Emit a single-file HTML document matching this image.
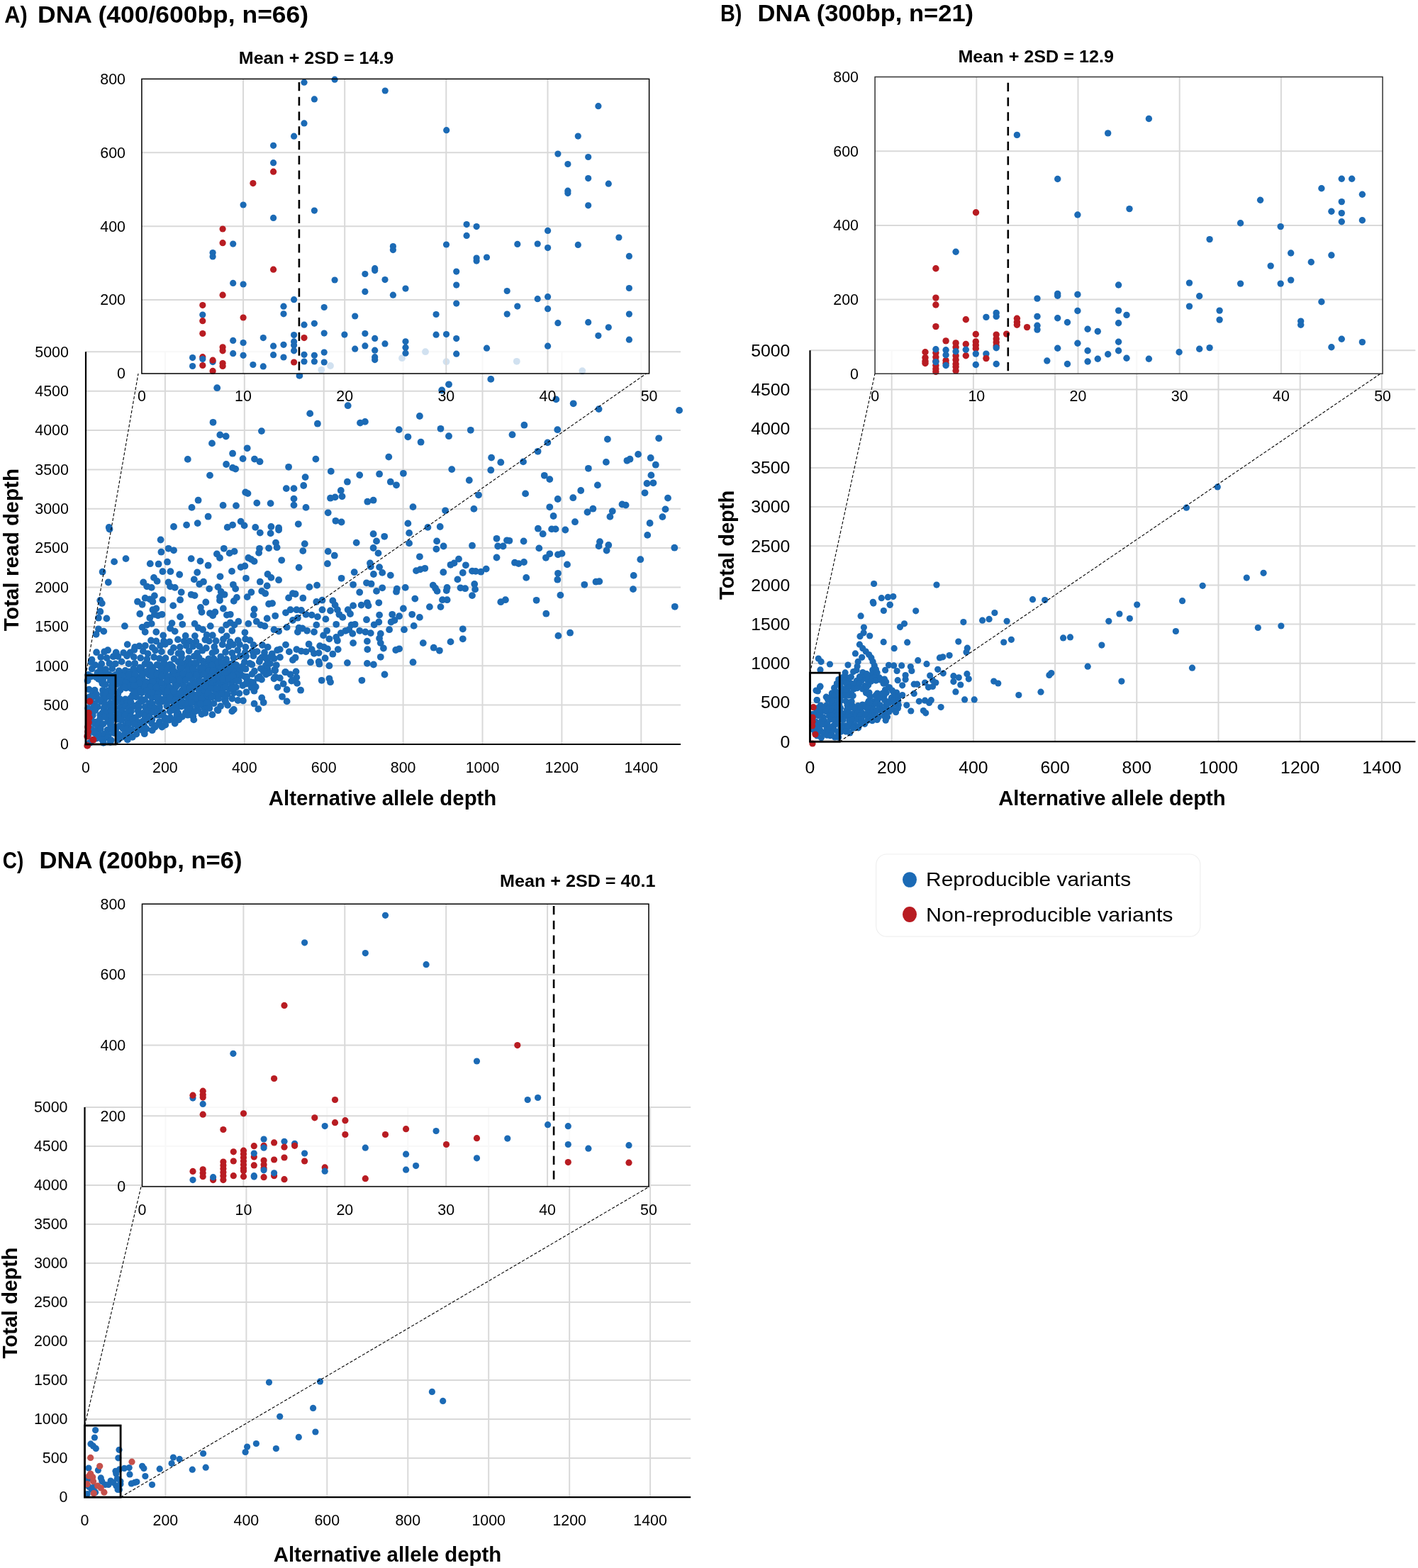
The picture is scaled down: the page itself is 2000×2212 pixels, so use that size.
<!DOCTYPE html><html><head><meta charset="utf-8"><title>DNA variant depth plots</title><style>html,body{margin:0;padding:0;background:#fff;}svg{display:block;}</style></head><body><svg width="2000" height="2212" viewBox="0 0 2000 2212" font-family="'Liberation Sans', Arial, sans-serif">
<rect width="2000" height="2212" fill="#fff"/>
<path d="M121.0 994.6H960.0M121.0 939.3H960.0M121.0 883.9H960.0M121.0 828.5H960.0M121.0 773.1H960.0M121.0 717.8H960.0M121.0 662.4H960.0M121.0 607.0H960.0M121.0 551.7H960.0M121.0 496.3H960.0M232.9 496.3V1050.0M344.8 496.3V1050.0M456.7 496.3V1050.0M568.6 496.3V1050.0M680.5 496.3V1050.0M792.4 496.3V1050.0M904.3 496.3V1050.0" stroke="#d9d9d9" stroke-width="2" fill="none"/>
<g fill="#1b6ab5"><circle cx="294.4" cy="929.7" r="4.9"/><circle cx="256.0" cy="935.1" r="4.9"/><circle cx="264.2" cy="933.8" r="4.9"/><circle cx="269.9" cy="935.9" r="4.9"/><circle cx="277.1" cy="935.4" r="4.9"/><circle cx="285.7" cy="932.6" r="4.9"/><circle cx="293.9" cy="933.5" r="4.9"/><circle cx="299.3" cy="935.6" r="4.9"/><circle cx="308.2" cy="933.0" r="4.9"/><circle cx="316.6" cy="935.3" r="4.9"/><circle cx="320.2" cy="935.7" r="4.9"/><circle cx="329.5" cy="936.5" r="4.9"/><circle cx="199.5" cy="942.6" r="4.9"/><circle cx="210.7" cy="939.4" r="4.9"/><circle cx="215.8" cy="941.7" r="4.9"/><circle cx="224.5" cy="938.8" r="4.9"/><circle cx="228.8" cy="938.7" r="4.9"/><circle cx="237.6" cy="938.8" r="4.9"/><circle cx="243.3" cy="940.4" r="4.9"/><circle cx="253.7" cy="941.6" r="4.9"/><circle cx="259.8" cy="939.1" r="4.9"/><circle cx="266.1" cy="941.0" r="4.9"/><circle cx="273.7" cy="939.0" r="4.9"/><circle cx="282.6" cy="942.1" r="4.9"/><circle cx="290.2" cy="942.7" r="4.9"/><circle cx="295.6" cy="940.5" r="4.9"/><circle cx="302.4" cy="942.6" r="4.9"/><circle cx="308.9" cy="940.7" r="4.9"/><circle cx="317.7" cy="939.3" r="4.9"/><circle cx="326.0" cy="941.8" r="4.9"/><circle cx="331.0" cy="940.0" r="4.9"/><circle cx="137.5" cy="949.0" r="4.9"/><circle cx="146.0" cy="947.3" r="4.9"/><circle cx="177.2" cy="947.3" r="4.9"/><circle cx="181.8" cy="947.7" r="4.9"/><circle cx="190.9" cy="945.9" r="4.9"/><circle cx="198.1" cy="946.4" r="4.9"/><circle cx="204.3" cy="949.3" r="4.9"/><circle cx="212.6" cy="948.1" r="4.9"/><circle cx="220.0" cy="948.9" r="4.9"/><circle cx="227.6" cy="946.8" r="4.9"/><circle cx="232.8" cy="948.5" r="4.9"/><circle cx="243.4" cy="949.1" r="4.9"/><circle cx="248.9" cy="949.2" r="4.9"/><circle cx="254.0" cy="948.1" r="4.9"/><circle cx="264.1" cy="948.5" r="4.9"/><circle cx="270.0" cy="946.1" r="4.9"/><circle cx="277.4" cy="947.1" r="4.9"/><circle cx="284.8" cy="946.4" r="4.9"/><circle cx="292.8" cy="949.2" r="4.9"/><circle cx="298.0" cy="945.7" r="4.9"/><circle cx="307.7" cy="948.5" r="4.9"/><circle cx="312.5" cy="946.3" r="4.9"/><circle cx="321.1" cy="947.1" r="4.9"/><circle cx="327.0" cy="945.3" r="4.9"/><circle cx="337.9" cy="946.4" r="4.9"/><circle cx="128.7" cy="954.4" r="4.9"/><circle cx="137.1" cy="951.6" r="4.9"/><circle cx="142.2" cy="953.3" r="4.9"/><circle cx="150.6" cy="953.4" r="4.9"/><circle cx="157.7" cy="953.4" r="4.9"/><circle cx="164.9" cy="952.4" r="4.9"/><circle cx="171.8" cy="951.4" r="4.9"/><circle cx="181.3" cy="953.9" r="4.9"/><circle cx="187.0" cy="951.6" r="4.9"/><circle cx="194.1" cy="955.6" r="4.9"/><circle cx="200.9" cy="955.2" r="4.9"/><circle cx="210.4" cy="952.5" r="4.9"/><circle cx="216.1" cy="953.4" r="4.9"/><circle cx="222.0" cy="952.7" r="4.9"/><circle cx="230.6" cy="953.9" r="4.9"/><circle cx="238.4" cy="954.5" r="4.9"/><circle cx="245.6" cy="952.3" r="4.9"/><circle cx="254.1" cy="951.8" r="4.9"/><circle cx="258.1" cy="953.0" r="4.9"/><circle cx="266.4" cy="952.1" r="4.9"/><circle cx="272.5" cy="953.9" r="4.9"/><circle cx="281.8" cy="953.3" r="4.9"/><circle cx="291.0" cy="953.5" r="4.9"/><circle cx="296.8" cy="951.8" r="4.9"/><circle cx="305.1" cy="951.8" r="4.9"/><circle cx="312.1" cy="954.0" r="4.9"/><circle cx="317.9" cy="952.1" r="4.9"/><circle cx="324.2" cy="953.2" r="4.9"/><circle cx="333.1" cy="952.6" r="4.9"/><circle cx="340.7" cy="952.7" r="4.9"/><circle cx="123.6" cy="960.2" r="4.9"/><circle cx="138.9" cy="957.9" r="4.9"/><circle cx="145.1" cy="959.0" r="4.9"/><circle cx="155.6" cy="960.0" r="4.9"/><circle cx="162.5" cy="959.5" r="4.9"/><circle cx="170.0" cy="959.1" r="4.9"/><circle cx="177.7" cy="959.4" r="4.9"/><circle cx="185.1" cy="958.7" r="4.9"/><circle cx="191.5" cy="960.0" r="4.9"/><circle cx="197.1" cy="959.0" r="4.9"/><circle cx="206.0" cy="961.8" r="4.9"/><circle cx="214.1" cy="960.1" r="4.9"/><circle cx="220.1" cy="961.3" r="4.9"/><circle cx="224.8" cy="960.7" r="4.9"/><circle cx="235.8" cy="959.8" r="4.9"/><circle cx="239.6" cy="959.8" r="4.9"/><circle cx="246.9" cy="960.6" r="4.9"/><circle cx="255.1" cy="958.9" r="4.9"/><circle cx="261.6" cy="959.6" r="4.9"/><circle cx="270.9" cy="958.6" r="4.9"/><circle cx="279.5" cy="960.2" r="4.9"/><circle cx="287.2" cy="961.6" r="4.9"/><circle cx="294.4" cy="960.7" r="4.9"/><circle cx="301.7" cy="957.6" r="4.9"/><circle cx="306.9" cy="961.1" r="4.9"/><circle cx="315.2" cy="960.8" r="4.9"/><circle cx="323.1" cy="958.8" r="4.9"/><circle cx="329.0" cy="959.8" r="4.9"/><circle cx="335.5" cy="957.7" r="4.9"/><circle cx="144.4" cy="964.3" r="4.9"/><circle cx="148.6" cy="965.6" r="4.9"/><circle cx="157.3" cy="967.9" r="4.9"/><circle cx="164.9" cy="965.3" r="4.9"/><circle cx="173.1" cy="968.0" r="4.9"/><circle cx="178.0" cy="967.7" r="4.9"/><circle cx="184.5" cy="965.0" r="4.9"/><circle cx="195.4" cy="965.4" r="4.9"/><circle cx="200.8" cy="964.9" r="4.9"/><circle cx="207.7" cy="965.0" r="4.9"/><circle cx="214.7" cy="968.2" r="4.9"/><circle cx="222.6" cy="966.4" r="4.9"/><circle cx="231.7" cy="966.7" r="4.9"/><circle cx="237.0" cy="967.5" r="4.9"/><circle cx="247.1" cy="965.0" r="4.9"/><circle cx="251.3" cy="965.2" r="4.9"/><circle cx="257.9" cy="966.0" r="4.9"/><circle cx="267.3" cy="967.0" r="4.9"/><circle cx="272.2" cy="966.4" r="4.9"/><circle cx="280.2" cy="964.4" r="4.9"/><circle cx="287.7" cy="966.7" r="4.9"/><circle cx="294.7" cy="966.1" r="4.9"/><circle cx="302.2" cy="964.1" r="4.9"/><circle cx="311.4" cy="967.0" r="4.9"/><circle cx="317.4" cy="966.0" r="4.9"/><circle cx="326.8" cy="965.6" r="4.9"/><circle cx="125.6" cy="972.6" r="4.9"/><circle cx="133.6" cy="973.7" r="4.9"/><circle cx="145.1" cy="973.8" r="4.9"/><circle cx="152.3" cy="974.4" r="4.9"/><circle cx="160.0" cy="971.2" r="4.9"/><circle cx="169.5" cy="973.6" r="4.9"/><circle cx="177.8" cy="970.5" r="4.9"/><circle cx="185.1" cy="971.3" r="4.9"/><circle cx="190.6" cy="970.3" r="4.9"/><circle cx="198.9" cy="973.3" r="4.9"/><circle cx="203.2" cy="970.6" r="4.9"/><circle cx="213.6" cy="974.0" r="4.9"/><circle cx="217.9" cy="972.7" r="4.9"/><circle cx="225.9" cy="973.7" r="4.9"/><circle cx="233.8" cy="972.1" r="4.9"/><circle cx="242.0" cy="971.9" r="4.9"/><circle cx="246.9" cy="970.8" r="4.9"/><circle cx="256.7" cy="974.1" r="4.9"/><circle cx="263.9" cy="970.9" r="4.9"/><circle cx="271.4" cy="971.5" r="4.9"/><circle cx="279.8" cy="971.8" r="4.9"/><circle cx="285.1" cy="970.7" r="4.9"/><circle cx="291.8" cy="971.6" r="4.9"/><circle cx="301.9" cy="971.8" r="4.9"/><circle cx="305.7" cy="974.2" r="4.9"/><circle cx="314.3" cy="972.1" r="4.9"/><circle cx="323.6" cy="971.8" r="4.9"/><circle cx="130.2" cy="980.1" r="4.9"/><circle cx="135.9" cy="979.4" r="4.9"/><circle cx="145.1" cy="979.8" r="4.9"/><circle cx="149.5" cy="979.5" r="4.9"/><circle cx="157.8" cy="977.2" r="4.9"/><circle cx="166.4" cy="978.4" r="4.9"/><circle cx="187.1" cy="980.5" r="4.9"/><circle cx="192.9" cy="978.1" r="4.9"/><circle cx="199.9" cy="977.4" r="4.9"/><circle cx="208.7" cy="980.7" r="4.9"/><circle cx="216.5" cy="978.3" r="4.9"/><circle cx="224.3" cy="977.0" r="4.9"/><circle cx="232.2" cy="977.6" r="4.9"/><circle cx="237.2" cy="978.0" r="4.9"/><circle cx="246.2" cy="979.3" r="4.9"/><circle cx="250.8" cy="978.9" r="4.9"/><circle cx="261.1" cy="979.2" r="4.9"/><circle cx="268.2" cy="977.8" r="4.9"/><circle cx="276.0" cy="980.6" r="4.9"/><circle cx="283.3" cy="980.0" r="4.9"/><circle cx="288.2" cy="977.3" r="4.9"/><circle cx="295.6" cy="979.0" r="4.9"/><circle cx="305.5" cy="977.3" r="4.9"/><circle cx="309.6" cy="978.8" r="4.9"/><circle cx="318.3" cy="979.3" r="4.9"/><circle cx="125.9" cy="983.4" r="4.9"/><circle cx="130.9" cy="983.3" r="4.9"/><circle cx="138.8" cy="986.7" r="4.9"/><circle cx="147.6" cy="985.7" r="4.9"/><circle cx="154.9" cy="983.2" r="4.9"/><circle cx="162.0" cy="985.3" r="4.9"/><circle cx="168.6" cy="985.8" r="4.9"/><circle cx="176.8" cy="986.5" r="4.9"/><circle cx="184.5" cy="984.8" r="4.9"/><circle cx="192.2" cy="983.2" r="4.9"/><circle cx="199.0" cy="986.5" r="4.9"/><circle cx="204.1" cy="987.1" r="4.9"/><circle cx="214.0" cy="983.7" r="4.9"/><circle cx="220.1" cy="983.8" r="4.9"/><circle cx="226.5" cy="986.3" r="4.9"/><circle cx="233.2" cy="985.0" r="4.9"/><circle cx="239.8" cy="983.2" r="4.9"/><circle cx="247.3" cy="987.0" r="4.9"/><circle cx="254.1" cy="986.9" r="4.9"/><circle cx="264.4" cy="983.0" r="4.9"/><circle cx="271.6" cy="986.2" r="4.9"/><circle cx="279.4" cy="983.9" r="4.9"/><circle cx="286.3" cy="982.9" r="4.9"/><circle cx="291.5" cy="985.5" r="4.9"/><circle cx="298.8" cy="983.1" r="4.9"/><circle cx="306.3" cy="984.2" r="4.9"/><circle cx="127.0" cy="990.2" r="4.9"/><circle cx="133.5" cy="992.3" r="4.9"/><circle cx="142.7" cy="989.7" r="4.9"/><circle cx="148.3" cy="993.5" r="4.9"/><circle cx="155.6" cy="991.9" r="4.9"/><circle cx="163.4" cy="991.0" r="4.9"/><circle cx="172.4" cy="992.7" r="4.9"/><circle cx="179.2" cy="992.2" r="4.9"/><circle cx="184.6" cy="990.7" r="4.9"/><circle cx="195.0" cy="993.0" r="4.9"/><circle cx="199.9" cy="989.4" r="4.9"/><circle cx="210.6" cy="992.1" r="4.9"/><circle cx="214.7" cy="992.6" r="4.9"/><circle cx="222.6" cy="989.6" r="4.9"/><circle cx="228.7" cy="989.6" r="4.9"/><circle cx="235.8" cy="990.8" r="4.9"/><circle cx="244.9" cy="989.7" r="4.9"/><circle cx="252.9" cy="990.6" r="4.9"/><circle cx="259.1" cy="991.1" r="4.9"/><circle cx="265.0" cy="990.2" r="4.9"/><circle cx="273.4" cy="990.3" r="4.9"/><circle cx="282.0" cy="991.8" r="4.9"/><circle cx="288.2" cy="989.9" r="4.9"/><circle cx="294.2" cy="991.2" r="4.9"/><circle cx="124.3" cy="999.1" r="4.9"/><circle cx="132.3" cy="997.3" r="4.9"/><circle cx="137.6" cy="997.3" r="4.9"/><circle cx="146.3" cy="998.9" r="4.9"/><circle cx="155.6" cy="997.4" r="4.9"/><circle cx="161.7" cy="998.7" r="4.9"/><circle cx="169.7" cy="998.0" r="4.9"/><circle cx="177.1" cy="996.7" r="4.9"/><circle cx="181.9" cy="999.2" r="4.9"/><circle cx="189.4" cy="996.0" r="4.9"/><circle cx="195.8" cy="997.6" r="4.9"/><circle cx="204.7" cy="997.2" r="4.9"/><circle cx="211.3" cy="999.3" r="4.9"/><circle cx="218.4" cy="998.6" r="4.9"/><circle cx="225.0" cy="997.6" r="4.9"/><circle cx="235.4" cy="996.1" r="4.9"/><circle cx="241.7" cy="999.6" r="4.9"/><circle cx="250.0" cy="998.2" r="4.9"/><circle cx="256.0" cy="996.6" r="4.9"/><circle cx="262.8" cy="996.7" r="4.9"/><circle cx="268.6" cy="998.3" r="4.9"/><circle cx="277.9" cy="996.5" r="4.9"/><circle cx="286.4" cy="995.9" r="4.9"/><circle cx="293.9" cy="998.4" r="4.9"/><circle cx="127.7" cy="1005.5" r="4.9"/><circle cx="134.2" cy="1002.2" r="4.9"/><circle cx="144.6" cy="1005.8" r="4.9"/><circle cx="151.6" cy="1004.2" r="4.9"/><circle cx="156.7" cy="1003.5" r="4.9"/><circle cx="165.3" cy="1006.2" r="4.9"/><circle cx="172.2" cy="1003.4" r="4.9"/><circle cx="179.2" cy="1005.8" r="4.9"/><circle cx="185.0" cy="1003.3" r="4.9"/><circle cx="194.7" cy="1002.7" r="4.9"/><circle cx="202.1" cy="1005.8" r="4.9"/><circle cx="208.3" cy="1003.3" r="4.9"/><circle cx="214.3" cy="1004.6" r="4.9"/><circle cx="221.9" cy="1003.9" r="4.9"/><circle cx="230.0" cy="1005.1" r="4.9"/><circle cx="239.7" cy="1003.5" r="4.9"/><circle cx="247.0" cy="1002.4" r="4.9"/><circle cx="251.2" cy="1005.9" r="4.9"/><circle cx="261.8" cy="1005.7" r="4.9"/><circle cx="266.2" cy="1004.2" r="4.9"/><circle cx="273.1" cy="1004.6" r="4.9"/><circle cx="279.6" cy="1002.2" r="4.9"/><circle cx="125.8" cy="1011.4" r="4.9"/><circle cx="130.8" cy="1009.1" r="4.9"/><circle cx="141.3" cy="1008.8" r="4.9"/><circle cx="147.1" cy="1011.2" r="4.9"/><circle cx="155.2" cy="1011.2" r="4.9"/><circle cx="161.1" cy="1011.3" r="4.9"/><circle cx="168.5" cy="1009.7" r="4.9"/><circle cx="176.1" cy="1009.0" r="4.9"/><circle cx="184.6" cy="1010.5" r="4.9"/><circle cx="191.1" cy="1012.3" r="4.9"/><circle cx="195.5" cy="1008.7" r="4.9"/><circle cx="204.6" cy="1010.7" r="4.9"/><circle cx="210.8" cy="1011.6" r="4.9"/><circle cx="221.3" cy="1008.7" r="4.9"/><circle cx="224.9" cy="1008.8" r="4.9"/><circle cx="232.2" cy="1012.3" r="4.9"/><circle cx="240.1" cy="1012.3" r="4.9"/><circle cx="249.4" cy="1009.5" r="4.9"/><circle cx="256.9" cy="1011.1" r="4.9"/><circle cx="264.7" cy="1008.7" r="4.9"/><circle cx="272.3" cy="1010.8" r="4.9"/><circle cx="129.0" cy="1016.2" r="4.9"/><circle cx="134.4" cy="1018.6" r="4.9"/><circle cx="140.9" cy="1014.6" r="4.9"/><circle cx="152.2" cy="1017.6" r="4.9"/><circle cx="156.6" cy="1017.8" r="4.9"/><circle cx="165.4" cy="1014.7" r="4.9"/><circle cx="171.5" cy="1015.9" r="4.9"/><circle cx="180.5" cy="1016.0" r="4.9"/><circle cx="187.0" cy="1015.1" r="4.9"/><circle cx="194.9" cy="1018.9" r="4.9"/><circle cx="201.1" cy="1017.6" r="4.9"/><circle cx="208.6" cy="1016.1" r="4.9"/><circle cx="214.3" cy="1015.3" r="4.9"/><circle cx="224.9" cy="1018.3" r="4.9"/><circle cx="232.5" cy="1014.7" r="4.9"/><circle cx="238.4" cy="1015.7" r="4.9"/><circle cx="245.1" cy="1015.9" r="4.9"/><circle cx="252.1" cy="1015.4" r="4.9"/><circle cx="124.7" cy="1024.4" r="4.9"/><circle cx="133.7" cy="1021.1" r="4.9"/><circle cx="139.3" cy="1022.8" r="4.9"/><circle cx="145.5" cy="1021.3" r="4.9"/><circle cx="155.3" cy="1021.6" r="4.9"/><circle cx="159.7" cy="1025.1" r="4.9"/><circle cx="168.4" cy="1024.1" r="4.9"/><circle cx="176.7" cy="1022.8" r="4.9"/><circle cx="181.2" cy="1021.5" r="4.9"/><circle cx="189.3" cy="1021.3" r="4.9"/><circle cx="199.0" cy="1022.6" r="4.9"/><circle cx="203.3" cy="1023.9" r="4.9"/><circle cx="214.2" cy="1020.9" r="4.9"/><circle cx="219.7" cy="1023.6" r="4.9"/><circle cx="225.2" cy="1021.5" r="4.9"/><circle cx="233.3" cy="1022.6" r="4.9"/><circle cx="129.1" cy="1028.9" r="4.9"/><circle cx="137.5" cy="1028.7" r="4.9"/><circle cx="141.8" cy="1028.2" r="4.9"/><circle cx="151.5" cy="1029.7" r="4.9"/><circle cx="156.5" cy="1028.9" r="4.9"/><circle cx="163.4" cy="1028.4" r="4.9"/><circle cx="173.5" cy="1027.8" r="4.9"/><circle cx="178.4" cy="1028.0" r="4.9"/><circle cx="185.3" cy="1029.3" r="4.9"/><circle cx="194.2" cy="1027.7" r="4.9"/><circle cx="199.5" cy="1029.9" r="4.9"/><circle cx="206.6" cy="1028.2" r="4.9"/><circle cx="214.7" cy="1030.2" r="4.9"/><circle cx="124.7" cy="1036.2" r="4.9"/><circle cx="133.8" cy="1034.2" r="4.9"/><circle cx="141.4" cy="1036.9" r="4.9"/><circle cx="147.4" cy="1035.5" r="4.9"/><circle cx="152.9" cy="1037.1" r="4.9"/><circle cx="160.8" cy="1034.0" r="4.9"/><circle cx="167.2" cy="1035.9" r="4.9"/><circle cx="175.9" cy="1035.3" r="4.9"/><circle cx="182.8" cy="1035.8" r="4.9"/><circle cx="192.3" cy="1035.6" r="4.9"/><circle cx="203.8" cy="1035.2" r="4.9"/><circle cx="130.5" cy="1044.1" r="4.9"/><circle cx="136.2" cy="1041.5" r="4.9"/><circle cx="143.9" cy="1043.3" r="4.9"/><circle cx="152.0" cy="1040.8" r="4.9"/><circle cx="156.7" cy="1044.1" r="4.9"/><circle cx="166.7" cy="1043.7" r="4.9"/><circle cx="172.2" cy="1039.8" r="4.9"/><circle cx="179.9" cy="1043.5" r="4.9"/><circle cx="186.8" cy="1039.8" r="4.9"/><circle cx="126.8" cy="1047.8" r="4.9"/><circle cx="145.9" cy="1047.9" r="4.9"/><circle cx="155.7" cy="1046.9" r="4.9"/><circle cx="261.7" cy="896.9" r="4.9"/><circle cx="274.9" cy="897.1" r="4.9"/><circle cx="291.6" cy="895.7" r="4.9"/><circle cx="299.8" cy="896.2" r="4.9"/><circle cx="319.7" cy="897.3" r="4.9"/><circle cx="213.0" cy="903.5" r="4.9"/><circle cx="220.3" cy="904.5" r="4.9"/><circle cx="231.0" cy="904.4" r="4.9"/><circle cx="239.1" cy="905.3" r="4.9"/><circle cx="250.9" cy="902.2" r="4.9"/><circle cx="259.8" cy="904.7" r="4.9"/><circle cx="267.5" cy="904.7" r="4.9"/><circle cx="276.4" cy="905.1" r="4.9"/><circle cx="289.4" cy="902.5" r="4.9"/><circle cx="294.9" cy="904.4" r="4.9"/><circle cx="304.7" cy="904.2" r="4.9"/><circle cx="315.0" cy="901.7" r="4.9"/><circle cx="324.6" cy="905.4" r="4.9"/><circle cx="335.7" cy="903.4" r="4.9"/><circle cx="346.1" cy="901.5" r="4.9"/><circle cx="352.5" cy="903.2" r="4.9"/><circle cx="179.7" cy="909.1" r="4.9"/><circle cx="190.2" cy="913.0" r="4.9"/><circle cx="196.4" cy="911.4" r="4.9"/><circle cx="204.9" cy="910.8" r="4.9"/><circle cx="214.9" cy="913.4" r="4.9"/><circle cx="226.1" cy="910.9" r="4.9"/><circle cx="233.0" cy="908.8" r="4.9"/><circle cx="244.9" cy="913.9" r="4.9"/><circle cx="253.9" cy="912.9" r="4.9"/><circle cx="262.8" cy="910.8" r="4.9"/><circle cx="272.2" cy="911.8" r="4.9"/><circle cx="281.3" cy="911.9" r="4.9"/><circle cx="290.8" cy="914.2" r="4.9"/><circle cx="302.3" cy="912.5" r="4.9"/><circle cx="313.7" cy="909.2" r="4.9"/><circle cx="322.4" cy="912.0" r="4.9"/><circle cx="328.8" cy="909.5" r="4.9"/><circle cx="338.0" cy="909.2" r="4.9"/><circle cx="346.4" cy="912.9" r="4.9"/><circle cx="357.5" cy="909.9" r="4.9"/><circle cx="370.0" cy="910.0" r="4.9"/><circle cx="377.7" cy="912.9" r="4.9"/><circle cx="136.1" cy="920.2" r="4.9"/><circle cx="147.1" cy="919.5" r="4.9"/><circle cx="152.1" cy="917.2" r="4.9"/><circle cx="163.7" cy="920.4" r="4.9"/><circle cx="174.2" cy="920.9" r="4.9"/><circle cx="183.6" cy="920.5" r="4.9"/><circle cx="189.4" cy="916.8" r="4.9"/><circle cx="201.9" cy="918.6" r="4.9"/><circle cx="208.6" cy="922.1" r="4.9"/><circle cx="219.0" cy="917.5" r="4.9"/><circle cx="227.9" cy="919.4" r="4.9"/><circle cx="240.9" cy="920.0" r="4.9"/><circle cx="251.5" cy="921.8" r="4.9"/><circle cx="256.0" cy="921.9" r="4.9"/><circle cx="266.6" cy="918.2" r="4.9"/><circle cx="278.1" cy="921.5" r="4.9"/><circle cx="285.4" cy="917.7" r="4.9"/><circle cx="299.5" cy="921.2" r="4.9"/><circle cx="304.4" cy="918.6" r="4.9"/><circle cx="318.1" cy="920.0" r="4.9"/><circle cx="327.3" cy="921.2" r="4.9"/><circle cx="335.3" cy="917.3" r="4.9"/><circle cx="345.8" cy="920.4" r="4.9"/><circle cx="356.1" cy="918.7" r="4.9"/><circle cx="362.7" cy="919.1" r="4.9"/><circle cx="373.0" cy="920.5" r="4.9"/><circle cx="383.8" cy="922.3" r="4.9"/><circle cx="391.1" cy="917.2" r="4.9"/><circle cx="129.5" cy="930.7" r="4.9"/><circle cx="142.2" cy="927.1" r="4.9"/><circle cx="150.7" cy="928.2" r="4.9"/><circle cx="159.8" cy="926.2" r="4.9"/><circle cx="166.5" cy="926.1" r="4.9"/><circle cx="179.1" cy="925.4" r="4.9"/><circle cx="188.8" cy="926.9" r="4.9"/><circle cx="198.2" cy="928.2" r="4.9"/><circle cx="207.4" cy="929.7" r="4.9"/><circle cx="217.2" cy="927.0" r="4.9"/><circle cx="224.9" cy="929.0" r="4.9"/><circle cx="233.5" cy="928.4" r="4.9"/><circle cx="245.6" cy="929.5" r="4.9"/><circle cx="256.1" cy="927.3" r="4.9"/><circle cx="266.0" cy="928.6" r="4.9"/><circle cx="273.8" cy="925.8" r="4.9"/><circle cx="280.7" cy="927.9" r="4.9"/><circle cx="294.4" cy="929.7" r="4.9"/><circle cx="301.6" cy="929.5" r="4.9"/><circle cx="311.3" cy="926.3" r="4.9"/><circle cx="319.1" cy="930.0" r="4.9"/><circle cx="329.5" cy="927.8" r="4.9"/><circle cx="338.7" cy="925.5" r="4.9"/><circle cx="347.1" cy="925.9" r="4.9"/><circle cx="357.4" cy="925.2" r="4.9"/><circle cx="369.6" cy="927.3" r="4.9"/><circle cx="376.5" cy="930.2" r="4.9"/><circle cx="386.7" cy="929.0" r="4.9"/><circle cx="394.9" cy="927.2" r="4.9"/><circle cx="128.5" cy="934.1" r="4.9"/><circle cx="134.3" cy="938.1" r="4.9"/><circle cx="143.2" cy="936.4" r="4.9"/><circle cx="154.3" cy="935.8" r="4.9"/><circle cx="162.8" cy="936.3" r="4.9"/><circle cx="171.6" cy="933.4" r="4.9"/><circle cx="181.4" cy="936.4" r="4.9"/><circle cx="190.2" cy="935.8" r="4.9"/><circle cx="204.4" cy="936.6" r="4.9"/><circle cx="211.4" cy="937.6" r="4.9"/><circle cx="221.6" cy="937.8" r="4.9"/><circle cx="231.3" cy="934.9" r="4.9"/><circle cx="240.0" cy="937.3" r="4.9"/><circle cx="251.3" cy="933.5" r="4.9"/><circle cx="256.1" cy="935.0" r="4.9"/><circle cx="270.7" cy="937.1" r="4.9"/><circle cx="275.2" cy="935.1" r="4.9"/><circle cx="287.1" cy="938.2" r="4.9"/><circle cx="299.6" cy="938.3" r="4.9"/><circle cx="307.5" cy="935.1" r="4.9"/><circle cx="313.0" cy="935.0" r="4.9"/><circle cx="326.6" cy="936.6" r="4.9"/><circle cx="333.3" cy="938.2" r="4.9"/><circle cx="344.9" cy="933.9" r="4.9"/><circle cx="352.3" cy="936.0" r="4.9"/><circle cx="365.8" cy="933.4" r="4.9"/><circle cx="374.9" cy="938.7" r="4.9"/><circle cx="381.0" cy="936.1" r="4.9"/><circle cx="389.8" cy="938.3" r="4.9"/><circle cx="129.6" cy="943.6" r="4.9"/><circle cx="141.9" cy="942.9" r="4.9"/><circle cx="149.1" cy="944.4" r="4.9"/><circle cx="158.2" cy="943.2" r="4.9"/><circle cx="167.7" cy="946.5" r="4.9"/><circle cx="176.7" cy="946.0" r="4.9"/><circle cx="188.4" cy="943.3" r="4.9"/><circle cx="197.4" cy="941.7" r="4.9"/><circle cx="207.5" cy="946.8" r="4.9"/><circle cx="213.8" cy="947.0" r="4.9"/><circle cx="227.3" cy="942.8" r="4.9"/><circle cx="235.8" cy="944.1" r="4.9"/><circle cx="244.4" cy="945.7" r="4.9"/><circle cx="256.1" cy="942.9" r="4.9"/><circle cx="264.9" cy="945.0" r="4.9"/><circle cx="272.3" cy="942.9" r="4.9"/><circle cx="285.2" cy="942.8" r="4.9"/><circle cx="294.7" cy="946.5" r="4.9"/><circle cx="300.5" cy="945.9" r="4.9"/><circle cx="311.8" cy="942.3" r="4.9"/><circle cx="322.1" cy="944.5" r="4.9"/><circle cx="332.6" cy="947.1" r="4.9"/><circle cx="338.6" cy="945.2" r="4.9"/><circle cx="346.5" cy="943.7" r="4.9"/><circle cx="358.9" cy="946.7" r="4.9"/><circle cx="367.9" cy="943.1" r="4.9"/><circle cx="377.3" cy="943.5" r="4.9"/><circle cx="387.3" cy="944.8" r="4.9"/><circle cx="124.3" cy="951.8" r="4.9"/><circle cx="135.5" cy="955.2" r="4.9"/><circle cx="142.0" cy="951.9" r="4.9"/><circle cx="153.4" cy="951.4" r="4.9"/><circle cx="163.1" cy="951.9" r="4.9"/><circle cx="172.2" cy="953.6" r="4.9"/><circle cx="181.1" cy="952.0" r="4.9"/><circle cx="190.3" cy="951.3" r="4.9"/><circle cx="200.2" cy="950.8" r="4.9"/><circle cx="213.8" cy="953.9" r="4.9"/><circle cx="221.3" cy="951.2" r="4.9"/><circle cx="227.9" cy="954.5" r="4.9"/><circle cx="237.9" cy="954.3" r="4.9"/><circle cx="251.9" cy="953.6" r="4.9"/><circle cx="258.3" cy="950.2" r="4.9"/><circle cx="266.5" cy="953.0" r="4.9"/><circle cx="277.2" cy="952.5" r="4.9"/><circle cx="287.4" cy="951.7" r="4.9"/><circle cx="296.1" cy="954.6" r="4.9"/><circle cx="306.0" cy="953.4" r="4.9"/><circle cx="317.1" cy="949.8" r="4.9"/><circle cx="326.6" cy="954.7" r="4.9"/><circle cx="333.4" cy="952.0" r="4.9"/><circle cx="345.3" cy="954.6" r="4.9"/><circle cx="355.6" cy="950.9" r="4.9"/><circle cx="366.1" cy="954.7" r="4.9"/><circle cx="375.3" cy="951.4" r="4.9"/><circle cx="142.6" cy="959.8" r="4.9"/><circle cx="158.6" cy="962.3" r="4.9"/><circle cx="170.2" cy="960.6" r="4.9"/><circle cx="177.6" cy="963.2" r="4.9"/><circle cx="187.3" cy="959.5" r="4.9"/><circle cx="196.8" cy="963.6" r="4.9"/><circle cx="206.6" cy="963.3" r="4.9"/><circle cx="215.4" cy="962.2" r="4.9"/><circle cx="228.0" cy="963.5" r="4.9"/><circle cx="236.7" cy="960.6" r="4.9"/><circle cx="243.5" cy="959.0" r="4.9"/><circle cx="253.0" cy="959.5" r="4.9"/><circle cx="262.1" cy="959.8" r="4.9"/><circle cx="275.7" cy="963.5" r="4.9"/><circle cx="282.8" cy="961.9" r="4.9"/><circle cx="290.0" cy="963.0" r="4.9"/><circle cx="304.2" cy="961.4" r="4.9"/><circle cx="308.9" cy="958.9" r="4.9"/><circle cx="318.1" cy="963.0" r="4.9"/><circle cx="328.9" cy="958.5" r="4.9"/><circle cx="336.8" cy="960.6" r="4.9"/><circle cx="348.6" cy="960.0" r="4.9"/><circle cx="357.0" cy="963.0" r="4.9"/><circle cx="369.0" cy="958.6" r="4.9"/><circle cx="175.8" cy="969.7" r="4.9"/><circle cx="183.9" cy="967.3" r="4.9"/><circle cx="189.5" cy="967.2" r="4.9"/><circle cx="204.2" cy="968.5" r="4.9"/><circle cx="212.0" cy="969.4" r="4.9"/><circle cx="220.4" cy="969.5" r="4.9"/><circle cx="231.5" cy="970.8" r="4.9"/><circle cx="238.8" cy="969.7" r="4.9"/><circle cx="248.9" cy="967.9" r="4.9"/><circle cx="261.2" cy="969.3" r="4.9"/><circle cx="268.2" cy="970.4" r="4.9"/><circle cx="280.1" cy="970.6" r="4.9"/><circle cx="289.6" cy="967.4" r="4.9"/><circle cx="297.6" cy="970.8" r="4.9"/><circle cx="305.6" cy="971.0" r="4.9"/><circle cx="318.2" cy="969.3" r="4.9"/><circle cx="327.8" cy="970.3" r="4.9"/><circle cx="333.0" cy="969.6" r="4.9"/><circle cx="342.2" cy="967.0" r="4.9"/><circle cx="354.6" cy="969.8" r="4.9"/><circle cx="360.7" cy="969.0" r="4.9"/><circle cx="190.2" cy="977.3" r="4.9"/><circle cx="198.5" cy="976.0" r="4.9"/><circle cx="206.9" cy="974.4" r="4.9"/><circle cx="213.5" cy="977.4" r="4.9"/><circle cx="223.0" cy="979.8" r="4.9"/><circle cx="235.9" cy="975.0" r="4.9"/><circle cx="245.0" cy="975.1" r="4.9"/><circle cx="253.4" cy="977.9" r="4.9"/><circle cx="266.1" cy="975.4" r="4.9"/><circle cx="270.4" cy="978.0" r="4.9"/><circle cx="279.8" cy="979.1" r="4.9"/><circle cx="293.4" cy="978.2" r="4.9"/><circle cx="303.0" cy="980.1" r="4.9"/><circle cx="312.9" cy="979.3" r="4.9"/><circle cx="320.9" cy="979.4" r="4.9"/><circle cx="329.9" cy="977.3" r="4.9"/><circle cx="337.4" cy="978.1" r="4.9"/><circle cx="347.5" cy="976.3" r="4.9"/><circle cx="358.5" cy="974.7" r="4.9"/><circle cx="221.2" cy="984.0" r="4.9"/><circle cx="232.5" cy="987.8" r="4.9"/><circle cx="239.5" cy="984.8" r="4.9"/><circle cx="247.7" cy="986.9" r="4.9"/><circle cx="256.1" cy="983.9" r="4.9"/><circle cx="269.6" cy="983.0" r="4.9"/><circle cx="276.3" cy="985.2" r="4.9"/><circle cx="284.4" cy="985.4" r="4.9"/><circle cx="299.1" cy="983.6" r="4.9"/><circle cx="308.2" cy="985.7" r="4.9"/><circle cx="317.0" cy="987.6" r="4.9"/><circle cx="327.4" cy="985.6" r="4.9"/><circle cx="335.6" cy="988.0" r="4.9"/><circle cx="245.1" cy="992.3" r="4.9"/><circle cx="256.4" cy="990.9" r="4.9"/><circle cx="265.0" cy="993.2" r="4.9"/><circle cx="270.3" cy="991.3" r="4.9"/><circle cx="282.8" cy="992.9" r="4.9"/><circle cx="291.9" cy="991.3" r="4.9"/><circle cx="301.5" cy="992.4" r="4.9"/><circle cx="311.1" cy="996.2" r="4.9"/><circle cx="321.1" cy="994.9" r="4.9"/><circle cx="265.6" cy="1000.5" r="4.9"/><circle cx="275.6" cy="1003.3" r="4.9"/><circle cx="288.8" cy="1000.3" r="4.9"/><circle cx="295.5" cy="999.1" r="4.9"/><circle cx="306.5" cy="1001.1" r="4.9"/><circle cx="284.4" cy="1007.6" r="4.9"/><circle cx="299.4" cy="1008.2" r="4.9"/><circle cx="306.2" cy="547.2" r="4.9"/><circle cx="300.5" cy="595.8" r="4.9"/><circle cx="368.9" cy="608.1" r="4.9"/><circle cx="310.3" cy="613.5" r="4.9"/><circle cx="318.7" cy="615.5" r="4.9"/><circle cx="299.0" cy="625.4" r="4.9"/><circle cx="348.7" cy="632.3" r="4.9"/><circle cx="328.1" cy="639.7" r="4.9"/><circle cx="264.8" cy="647.9" r="4.9"/><circle cx="342.6" cy="647.1" r="4.9"/><circle cx="359.0" cy="647.6" r="4.9"/><circle cx="366.5" cy="651.2" r="4.9"/><circle cx="319.1" cy="655.0" r="4.9"/><circle cx="328.1" cy="659.9" r="4.9"/><circle cx="332.2" cy="661.6" r="4.9"/><circle cx="407.1" cy="658.8" r="4.9"/><circle cx="296.0" cy="670.6" r="4.9"/><circle cx="403.8" cy="689.1" r="4.9"/><circle cx="414.5" cy="689.1" r="4.9"/><circle cx="346.2" cy="694.5" r="4.9"/><circle cx="349.5" cy="696.1" r="4.9"/><circle cx="414.5" cy="703.6" r="4.9"/><circle cx="279.6" cy="705.7" r="4.9"/><circle cx="270.5" cy="715.9" r="4.9"/><circle cx="314.6" cy="712.9" r="4.9"/><circle cx="333.0" cy="713.4" r="4.9"/><circle cx="362.3" cy="709.6" r="4.9"/><circle cx="381.6" cy="710.1" r="4.9"/><circle cx="414.5" cy="712.6" r="4.9"/><circle cx="293.6" cy="728.7" r="4.9"/><circle cx="278.7" cy="738.1" r="4.9"/><circle cx="263.1" cy="740.6" r="4.9"/><circle cx="245.0" cy="743.0" r="4.9"/><circle cx="339.6" cy="735.6" r="4.9"/><circle cx="328.1" cy="740.6" r="4.9"/><circle cx="320.7" cy="743.9" r="4.9"/><circle cx="344.6" cy="741.4" r="4.9"/><circle cx="360.2" cy="743.9" r="4.9"/><circle cx="382.4" cy="743.0" r="4.9"/><circle cx="393.1" cy="744.7" r="4.9"/><circle cx="153.7" cy="743.9" r="4.9"/><circle cx="422.4" cy="529.9" r="4.9"/><circle cx="692.3" cy="534.9" r="4.9"/><circle cx="633.0" cy="542.3" r="4.9"/><circle cx="623.2" cy="550.5" r="4.9"/><circle cx="490.7" cy="572.2" r="4.9"/><circle cx="437.2" cy="583.4" r="4.9"/><circle cx="447.9" cy="597.7" r="4.9"/><circle cx="508.0" cy="596.6" r="4.9"/><circle cx="514.9" cy="594.9" r="4.9"/><circle cx="591.9" cy="587.0" r="4.9"/><circle cx="562.8" cy="606.1" r="4.9"/><circle cx="621.5" cy="604.8" r="4.9"/><circle cx="663.8" cy="606.8" r="4.9"/><circle cx="575.4" cy="616.3" r="4.9"/><circle cx="633.0" cy="615.2" r="4.9"/><circle cx="593.6" cy="623.7" r="4.9"/><circle cx="445.4" cy="647.6" r="4.9"/><circle cx="548.3" cy="644.6" r="4.9"/><circle cx="693.1" cy="645.6" r="4.9"/><circle cx="706.3" cy="652.2" r="4.9"/><circle cx="637.2" cy="662.1" r="4.9"/><circle cx="692.3" cy="663.2" r="4.9"/><circle cx="466.8" cy="664.9" r="4.9"/><circle cx="507.2" cy="670.1" r="4.9"/><circle cx="535.1" cy="668.7" r="4.9"/><circle cx="568.9" cy="667.8" r="4.9"/><circle cx="430.6" cy="673.1" r="4.9"/><circle cx="489.9" cy="679.7" r="4.9"/><circle cx="550.8" cy="679.7" r="4.9"/><circle cx="559.0" cy="684.3" r="4.9"/><circle cx="661.8" cy="677.5" r="4.9"/><circle cx="428.2" cy="685.0" r="4.9"/><circle cx="480.8" cy="692.0" r="4.9"/><circle cx="482.5" cy="700.3" r="4.9"/><circle cx="466.0" cy="702.7" r="4.9"/><circle cx="472.6" cy="701.4" r="4.9"/><circle cx="518.3" cy="707.7" r="4.9"/><circle cx="526.6" cy="705.7" r="4.9"/><circle cx="675.0" cy="698.3" r="4.9"/><circle cx="431.5" cy="715.9" r="4.9"/><circle cx="582.5" cy="715.1" r="4.9"/><circle cx="628.1" cy="720.3" r="4.9"/><circle cx="668.4" cy="717.9" r="4.9"/><circle cx="462.7" cy="723.3" r="4.9"/><circle cx="473.4" cy="734.8" r="4.9"/><circle cx="481.6" cy="736.5" r="4.9"/><circle cx="420.8" cy="739.3" r="4.9"/><circle cx="575.4" cy="738.4" r="4.9"/><circle cx="603.4" cy="743.9" r="4.9"/><circle cx="620.7" cy="743.0" r="4.9"/><circle cx="784.3" cy="563.4" r="4.9"/><circle cx="808.7" cy="569.3" r="4.9"/><circle cx="844.6" cy="577.1" r="4.9"/><circle cx="958.1" cy="578.9" r="4.9"/><circle cx="739.4" cy="599.7" r="4.9"/><circle cx="786.3" cy="606.2" r="4.9"/><circle cx="722.5" cy="613.2" r="4.9"/><circle cx="856.9" cy="619.6" r="4.9"/><circle cx="929.2" cy="618.3" r="4.9"/><circle cx="772.3" cy="624.4" r="4.9"/><circle cx="758.6" cy="636.8" r="4.9"/><circle cx="738.0" cy="651.4" r="4.9"/><circle cx="900.1" cy="640.9" r="4.9"/><circle cx="917.7" cy="646.0" r="4.9"/><circle cx="884.4" cy="649.8" r="4.9"/><circle cx="888.5" cy="647.7" r="4.9"/><circle cx="854.9" cy="651.9" r="4.9"/><circle cx="924.8" cy="655.7" r="4.9"/><circle cx="829.9" cy="660.8" r="4.9"/><circle cx="767.8" cy="670.8" r="4.9"/><circle cx="775.3" cy="676.1" r="4.9"/><circle cx="918.4" cy="670.4" r="4.9"/><circle cx="912.5" cy="682.0" r="4.9"/><circle cx="921.4" cy="681.3" r="4.9"/><circle cx="842.9" cy="684.4" r="4.9"/><circle cx="819.2" cy="692.0" r="4.9"/><circle cx="741.1" cy="696.4" r="4.9"/><circle cx="909.5" cy="695.3" r="4.9"/><circle cx="808.3" cy="702.2" r="4.9"/><circle cx="786.7" cy="704.0" r="4.9"/><circle cx="942.0" cy="702.6" r="4.9"/><circle cx="775.3" cy="715.3" r="4.9"/><circle cx="877.5" cy="711.5" r="4.9"/><circle cx="882.6" cy="712.6" r="4.9"/><circle cx="836.4" cy="717.7" r="4.9"/><circle cx="828.5" cy="722.5" r="4.9"/><circle cx="863.8" cy="721.1" r="4.9"/><circle cx="860.4" cy="728.9" r="4.9"/><circle cx="938.5" cy="718.4" r="4.9"/><circle cx="780.6" cy="728.0" r="4.9"/><circle cx="934.4" cy="729.1" r="4.9"/><circle cx="811.0" cy="736.2" r="4.9"/><circle cx="916.6" cy="738.0" r="4.9"/><circle cx="154.5" cy="746.6" r="4.9"/><circle cx="226.6" cy="761.5" r="4.9"/><circle cx="237.6" cy="773.8" r="4.9"/><circle cx="245.0" cy="776.3" r="4.9"/><circle cx="227.4" cy="778.7" r="4.9"/><circle cx="177.5" cy="788.1" r="4.9"/><circle cx="161.1" cy="792.4" r="4.9"/><circle cx="211.8" cy="795.2" r="4.9"/><circle cx="223.6" cy="795.7" r="4.9"/><circle cx="236.0" cy="792.7" r="4.9"/><circle cx="269.7" cy="788.1" r="4.9"/><circle cx="282.5" cy="791.6" r="4.9"/><circle cx="293.6" cy="797.7" r="4.9"/><circle cx="315.8" cy="773.8" r="4.9"/><circle cx="323.7" cy="780.4" r="4.9"/><circle cx="330.6" cy="777.9" r="4.9"/><circle cx="305.9" cy="781.5" r="4.9"/><circle cx="310.0" cy="787.0" r="4.9"/><circle cx="366.0" cy="773.8" r="4.9"/><circle cx="379.1" cy="773.3" r="4.9"/><circle cx="389.0" cy="765.6" r="4.9"/><circle cx="390.6" cy="772.2" r="4.9"/><circle cx="365.1" cy="779.9" r="4.9"/><circle cx="366.8" cy="751.6" r="4.9"/><circle cx="381.6" cy="752.4" r="4.9"/><circle cx="393.1" cy="747.5" r="4.9"/><circle cx="350.3" cy="787.0" r="4.9"/><circle cx="358.6" cy="791.9" r="4.9"/><circle cx="354.4" cy="789.1" r="4.9"/><circle cx="397.2" cy="790.3" r="4.9"/><circle cx="339.6" cy="800.1" r="4.9"/><circle cx="345.4" cy="798.5" r="4.9"/><circle cx="327.0" cy="805.9" r="4.9"/><circle cx="310.5" cy="813.3" r="4.9"/><circle cx="278.2" cy="807.5" r="4.9"/><circle cx="347.0" cy="815.8" r="4.9"/><circle cx="377.5" cy="810.0" r="4.9"/><circle cx="382.4" cy="814.9" r="4.9"/><circle cx="393.1" cy="818.2" r="4.9"/><circle cx="144.6" cy="806.7" r="4.9"/><circle cx="152.8" cy="821.5" r="4.9"/><circle cx="229.4" cy="806.2" r="4.9"/><circle cx="240.4" cy="806.2" r="4.9"/><circle cx="253.2" cy="810.5" r="4.9"/><circle cx="217.0" cy="814.9" r="4.9"/><circle cx="221.6" cy="819.9" r="4.9"/><circle cx="202.2" cy="821.5" r="4.9"/><circle cx="207.2" cy="827.3" r="4.9"/><circle cx="213.7" cy="828.9" r="4.9"/><circle cx="237.6" cy="821.5" r="4.9"/><circle cx="240.1" cy="827.3" r="4.9"/><circle cx="246.7" cy="828.9" r="4.9"/><circle cx="273.8" cy="817.4" r="4.9"/><circle cx="281.2" cy="824.0" r="4.9"/><circle cx="287.0" cy="820.7" r="4.9"/><circle cx="295.2" cy="830.6" r="4.9"/><circle cx="307.5" cy="828.1" r="4.9"/><circle cx="311.7" cy="834.7" r="4.9"/><circle cx="316.6" cy="838.8" r="4.9"/><circle cx="328.9" cy="824.8" r="4.9"/><circle cx="332.2" cy="830.6" r="4.9"/><circle cx="366.8" cy="820.7" r="4.9"/><circle cx="376.7" cy="826.5" r="4.9"/><circle cx="369.2" cy="833.9" r="4.9"/><circle cx="374.2" cy="837.2" r="4.9"/><circle cx="255.7" cy="835.5" r="4.9"/><circle cx="269.7" cy="838.8" r="4.9"/><circle cx="274.6" cy="840.1" r="4.9"/><circle cx="310.0" cy="842.1" r="4.9"/><circle cx="310.0" cy="847.0" r="4.9"/><circle cx="329.8" cy="847.9" r="4.9"/><circle cx="333.9" cy="842.9" r="4.9"/><circle cx="348.7" cy="842.1" r="4.9"/><circle cx="354.4" cy="835.5" r="4.9"/><circle cx="407.1" cy="843.4" r="4.9"/><circle cx="412.9" cy="837.2" r="4.9"/><circle cx="141.3" cy="847.0" r="4.9"/><circle cx="143.8" cy="851.1" r="4.9"/><circle cx="194.0" cy="848.7" r="4.9"/><circle cx="200.6" cy="852.8" r="4.9"/><circle cx="204.7" cy="843.7" r="4.9"/><circle cx="211.3" cy="845.4" r="4.9"/><circle cx="215.4" cy="848.7" r="4.9"/><circle cx="217.9" cy="840.4" r="4.9"/><circle cx="229.4" cy="846.2" r="4.9"/><circle cx="254.1" cy="846.2" r="4.9"/><circle cx="244.2" cy="854.4" r="4.9"/><circle cx="290.3" cy="849.5" r="4.9"/><circle cx="282.9" cy="856.9" r="4.9"/><circle cx="284.5" cy="863.5" r="4.9"/><circle cx="296.0" cy="865.1" r="4.9"/><circle cx="303.4" cy="863.5" r="4.9"/><circle cx="300.1" cy="868.4" r="4.9"/><circle cx="314.9" cy="858.5" r="4.9"/><circle cx="319.9" cy="867.6" r="4.9"/><circle cx="324.8" cy="866.8" r="4.9"/><circle cx="379.1" cy="852.0" r="4.9"/><circle cx="384.1" cy="851.1" r="4.9"/><circle cx="358.6" cy="859.4" r="4.9"/><circle cx="357.7" cy="867.6" r="4.9"/><circle cx="403.0" cy="864.3" r="4.9"/><circle cx="409.6" cy="860.2" r="4.9"/><circle cx="388.2" cy="868.8" r="4.9"/><circle cx="376.7" cy="872.5" r="4.9"/><circle cx="141.3" cy="862.7" r="4.9"/><circle cx="138.9" cy="871.7" r="4.9"/><circle cx="150.4" cy="872.5" r="4.9"/><circle cx="197.3" cy="866.0" r="4.9"/><circle cx="215.4" cy="860.2" r="4.9"/><circle cx="220.3" cy="858.5" r="4.9"/><circle cx="217.9" cy="866.8" r="4.9"/><circle cx="222.8" cy="868.4" r="4.9"/><circle cx="228.5" cy="866.8" r="4.9"/><circle cx="211.3" cy="871.7" r="4.9"/><circle cx="254.1" cy="870.1" r="4.9"/><circle cx="242.5" cy="879.1" r="4.9"/><circle cx="257.3" cy="880.8" r="4.9"/><circle cx="274.6" cy="879.9" r="4.9"/><circle cx="279.6" cy="885.7" r="4.9"/><circle cx="286.1" cy="888.2" r="4.9"/><circle cx="296.8" cy="883.2" r="4.9"/><circle cx="312.5" cy="889.0" r="4.9"/><circle cx="319.1" cy="881.6" r="4.9"/><circle cx="324.8" cy="878.3" r="4.9"/><circle cx="330.6" cy="881.6" r="4.9"/><circle cx="336.3" cy="876.7" r="4.9"/><circle cx="327.3" cy="889.8" r="4.9"/><circle cx="350.3" cy="879.9" r="4.9"/><circle cx="361.8" cy="876.7" r="4.9"/><circle cx="367.6" cy="881.6" r="4.9"/><circle cx="373.4" cy="883.2" r="4.9"/><circle cx="393.1" cy="890.6" r="4.9"/><circle cx="386.5" cy="888.2" r="4.9"/><circle cx="404.6" cy="884.9" r="4.9"/><circle cx="412.9" cy="875.0" r="4.9"/><circle cx="175.9" cy="883.2" r="4.9"/><circle cx="138.9" cy="887.3" r="4.9"/><circle cx="146.3" cy="890.6" r="4.9"/><circle cx="135.6" cy="894.8" r="4.9"/><circle cx="200.6" cy="884.9" r="4.9"/><circle cx="207.2" cy="881.6" r="4.9"/><circle cx="213.7" cy="879.9" r="4.9"/><circle cx="204.7" cy="891.5" r="4.9"/><circle cx="220.3" cy="891.5" r="4.9"/><circle cx="230.2" cy="896.4" r="4.9"/><circle cx="240.1" cy="886.5" r="4.9"/><circle cx="246.7" cy="890.6" r="4.9"/><circle cx="345.4" cy="892.3" r="4.9"/><circle cx="347.9" cy="954.8" r="4.9"/><circle cx="364.3" cy="956.5" r="4.9"/><circle cx="378.3" cy="949.1" r="4.9"/><circle cx="386.5" cy="957.3" r="4.9"/><circle cx="402.2" cy="948.2" r="4.9"/><circle cx="411.2" cy="960.6" r="4.9"/><circle cx="342.1" cy="940.0" r="4.9"/><circle cx="355.3" cy="937.5" r="4.9"/><circle cx="366.8" cy="930.1" r="4.9"/><circle cx="375.0" cy="927.7" r="4.9"/><circle cx="381.6" cy="926.8" r="4.9"/><circle cx="394.8" cy="916.1" r="4.9"/><circle cx="403.0" cy="909.6" r="4.9"/><circle cx="407.9" cy="919.4" r="4.9"/><circle cx="412.9" cy="931.0" r="4.9"/><circle cx="388.2" cy="945.8" r="4.9"/><circle cx="320.7" cy="957.3" r="4.9"/><circle cx="328.9" cy="954.0" r="4.9"/><circle cx="333.9" cy="960.6" r="4.9"/><circle cx="312.5" cy="960.6" r="4.9"/><circle cx="301.0" cy="958.9" r="4.9"/><circle cx="353.6" cy="962.2" r="4.9"/><circle cx="371.7" cy="947.4" r="4.9"/><circle cx="429.8" cy="767.2" r="4.9"/><circle cx="427.3" cy="777.1" r="4.9"/><circle cx="502.7" cy="765.6" r="4.9"/><circle cx="526.6" cy="753.2" r="4.9"/><circle cx="542.2" cy="756.8" r="4.9"/><circle cx="531.0" cy="763.4" r="4.9"/><circle cx="526.6" cy="773.0" r="4.9"/><circle cx="533.5" cy="780.4" r="4.9"/><circle cx="577.1" cy="751.9" r="4.9"/><circle cx="577.1" cy="766.4" r="4.9"/><circle cx="616.1" cy="763.4" r="4.9"/><circle cx="625.6" cy="770.5" r="4.9"/><circle cx="615.4" cy="774.6" r="4.9"/><circle cx="666.0" cy="769.7" r="4.9"/><circle cx="700.5" cy="759.8" r="4.9"/><circle cx="702.2" cy="770.5" r="4.9"/><circle cx="709.6" cy="770.5" r="4.9"/><circle cx="715.0" cy="762.3" r="4.9"/><circle cx="462.7" cy="777.9" r="4.9"/><circle cx="471.8" cy="783.7" r="4.9"/><circle cx="461.9" cy="795.2" r="4.9"/><circle cx="421.6" cy="800.6" r="4.9"/><circle cx="591.9" cy="785.3" r="4.9"/><circle cx="700.5" cy="786.5" r="4.9"/><circle cx="522.0" cy="794.4" r="4.9"/><circle cx="522.8" cy="799.3" r="4.9"/><circle cx="535.1" cy="800.1" r="4.9"/><circle cx="499.7" cy="807.2" r="4.9"/><circle cx="526.9" cy="810.0" r="4.9"/><circle cx="539.2" cy="807.9" r="4.9"/><circle cx="550.8" cy="811.6" r="4.9"/><circle cx="587.0" cy="805.1" r="4.9"/><circle cx="592.7" cy="803.4" r="4.9"/><circle cx="599.3" cy="801.8" r="4.9"/><circle cx="625.3" cy="807.2" r="4.9"/><circle cx="635.5" cy="796.8" r="4.9"/><circle cx="640.5" cy="794.4" r="4.9"/><circle cx="647.0" cy="788.6" r="4.9"/><circle cx="656.9" cy="797.3" r="4.9"/><circle cx="652.8" cy="808.0" r="4.9"/><circle cx="666.0" cy="805.6" r="4.9"/><circle cx="670.9" cy="805.9" r="4.9"/><circle cx="678.3" cy="806.7" r="4.9"/><circle cx="685.7" cy="802.6" r="4.9"/><circle cx="481.6" cy="815.8" r="4.9"/><circle cx="498.1" cy="824.8" r="4.9"/><circle cx="436.4" cy="828.1" r="4.9"/><circle cx="447.1" cy="825.6" r="4.9"/><circle cx="517.0" cy="822.3" r="4.9"/><circle cx="523.6" cy="823.7" r="4.9"/><circle cx="507.2" cy="835.5" r="4.9"/><circle cx="531.0" cy="833.9" r="4.9"/><circle cx="539.2" cy="829.3" r="4.9"/><circle cx="559.8" cy="830.6" r="4.9"/><circle cx="559.0" cy="834.7" r="4.9"/><circle cx="571.7" cy="828.9" r="4.9"/><circle cx="610.8" cy="825.6" r="4.9"/><circle cx="616.6" cy="833.9" r="4.9"/><circle cx="614.1" cy="829.7" r="4.9"/><circle cx="630.6" cy="828.9" r="4.9"/><circle cx="629.8" cy="833.0" r="4.9"/><circle cx="645.4" cy="817.4" r="4.9"/><circle cx="649.5" cy="829.3" r="4.9"/><circle cx="656.1" cy="830.2" r="4.9"/><circle cx="669.2" cy="824.0" r="4.9"/><circle cx="670.1" cy="831.4" r="4.9"/><circle cx="666.0" cy="840.1" r="4.9"/><circle cx="416.6" cy="838.0" r="4.9"/><circle cx="427.3" cy="843.7" r="4.9"/><circle cx="585.3" cy="844.6" r="4.9"/><circle cx="706.3" cy="849.2" r="4.9"/><circle cx="712.9" cy="846.2" r="4.9"/><circle cx="446.3" cy="849.0" r="4.9"/><circle cx="454.5" cy="846.7" r="4.9"/><circle cx="469.3" cy="847.4" r="4.9"/><circle cx="472.6" cy="853.6" r="4.9"/><circle cx="475.9" cy="860.2" r="4.9"/><circle cx="478.4" cy="866.8" r="4.9"/><circle cx="454.5" cy="860.2" r="4.9"/><circle cx="466.0" cy="861.5" r="4.9"/><circle cx="490.7" cy="860.2" r="4.9"/><circle cx="494.0" cy="866.0" r="4.9"/><circle cx="498.1" cy="854.4" r="4.9"/><circle cx="509.6" cy="853.6" r="4.9"/><circle cx="517.9" cy="850.3" r="4.9"/><circle cx="519.5" cy="854.4" r="4.9"/><circle cx="534.3" cy="850.3" r="4.9"/><circle cx="568.9" cy="858.5" r="4.9"/><circle cx="553.2" cy="866.8" r="4.9"/><circle cx="563.1" cy="869.2" r="4.9"/><circle cx="581.2" cy="866.8" r="4.9"/><circle cx="591.9" cy="870.9" r="4.9"/><circle cx="605.9" cy="856.1" r="4.9"/><circle cx="621.5" cy="856.1" r="4.9"/><circle cx="624.0" cy="846.2" r="4.9"/><circle cx="630.6" cy="846.2" r="4.9"/><circle cx="418.3" cy="860.2" r="4.9"/><circle cx="424.9" cy="861.0" r="4.9"/><circle cx="431.5" cy="866.8" r="4.9"/><circle cx="439.7" cy="867.6" r="4.9"/><circle cx="447.9" cy="870.1" r="4.9"/><circle cx="459.4" cy="873.4" r="4.9"/><circle cx="419.9" cy="871.7" r="4.9"/><circle cx="483.3" cy="870.9" r="4.9"/><circle cx="517.0" cy="874.2" r="4.9"/><circle cx="535.1" cy="867.6" r="4.9"/><circle cx="556.5" cy="875.0" r="4.9"/><circle cx="551.6" cy="877.5" r="4.9"/><circle cx="527.7" cy="881.3" r="4.9"/><circle cx="534.3" cy="877.5" r="4.9"/><circle cx="583.7" cy="882.9" r="4.9"/><circle cx="446.3" cy="881.6" r="4.9"/><circle cx="474.2" cy="880.8" r="4.9"/><circle cx="495.6" cy="881.6" r="4.9"/><circle cx="500.6" cy="880.8" r="4.9"/><circle cx="421.6" cy="885.7" r="4.9"/><circle cx="426.5" cy="886.5" r="4.9"/><circle cx="419.9" cy="891.5" r="4.9"/><circle cx="433.1" cy="889.8" r="4.9"/><circle cx="443.0" cy="891.5" r="4.9"/><circle cx="461.1" cy="889.8" r="4.9"/><circle cx="456.1" cy="896.4" r="4.9"/><circle cx="464.4" cy="901.3" r="4.9"/><circle cx="474.2" cy="898.9" r="4.9"/><circle cx="475.9" cy="903.8" r="4.9"/><circle cx="480.8" cy="893.1" r="4.9"/><circle cx="487.4" cy="889.8" r="4.9"/><circle cx="492.3" cy="888.2" r="4.9"/><circle cx="497.3" cy="893.9" r="4.9"/><circle cx="507.2" cy="889.8" r="4.9"/><circle cx="515.4" cy="891.5" r="4.9"/><circle cx="522.8" cy="893.1" r="4.9"/><circle cx="536.8" cy="893.9" r="4.9"/><circle cx="535.1" cy="900.5" r="4.9"/><circle cx="536.8" cy="907.1" r="4.9"/><circle cx="498.1" cy="907.1" r="4.9"/><circle cx="517.9" cy="904.6" r="4.9"/><circle cx="549.1" cy="888.2" r="4.9"/><circle cx="570.0" cy="888.2" r="4.9"/><circle cx="652.8" cy="887.3" r="4.9"/><circle cx="652.8" cy="901.3" r="4.9"/><circle cx="635.5" cy="905.4" r="4.9"/><circle cx="596.8" cy="907.1" r="4.9"/><circle cx="435.6" cy="908.7" r="4.9"/><circle cx="451.2" cy="911.2" r="4.9"/><circle cx="457.0" cy="912.9" r="4.9"/><circle cx="461.9" cy="915.3" r="4.9"/><circle cx="439.7" cy="916.1" r="4.9"/><circle cx="443.0" cy="921.9" r="4.9"/><circle cx="418.3" cy="916.1" r="4.9"/><circle cx="424.9" cy="918.6" r="4.9"/><circle cx="431.5" cy="919.4" r="4.9"/><circle cx="449.6" cy="921.1" r="4.9"/><circle cx="416.6" cy="927.7" r="4.9"/><circle cx="469.3" cy="922.7" r="4.9"/><circle cx="476.7" cy="916.1" r="4.9"/><circle cx="458.6" cy="928.5" r="4.9"/><circle cx="540.9" cy="914.5" r="4.9"/><circle cx="518.3" cy="916.1" r="4.9"/><circle cx="558.2" cy="917.0" r="4.9"/><circle cx="563.1" cy="915.3" r="4.9"/><circle cx="611.7" cy="913.7" r="4.9"/><circle cx="619.9" cy="917.8" r="4.9"/><circle cx="536.8" cy="926.8" r="4.9"/><circle cx="438.0" cy="934.2" r="4.9"/><circle cx="449.6" cy="933.4" r="4.9"/><circle cx="450.4" cy="936.7" r="4.9"/><circle cx="464.4" cy="939.2" r="4.9"/><circle cx="489.9" cy="935.1" r="4.9"/><circle cx="517.9" cy="935.9" r="4.9"/><circle cx="526.9" cy="937.5" r="4.9"/><circle cx="582.5" cy="934.2" r="4.9"/><circle cx="542.5" cy="951.5" r="4.9"/><circle cx="510.4" cy="959.8" r="4.9"/><circle cx="453.7" cy="959.8" r="4.9"/><circle cx="464.4" cy="957.3" r="4.9"/><circle cx="466.0" cy="962.2" r="4.9"/><circle cx="417.5" cy="947.4" r="4.9"/><circle cx="418.3" cy="955.6" r="4.9"/><circle cx="419.1" cy="963.9" r="4.9"/><circle cx="758.9" cy="745.7" r="4.9"/><circle cx="778.1" cy="746.4" r="4.9"/><circle cx="783.6" cy="746.4" r="4.9"/><circle cx="797.3" cy="747.5" r="4.9"/><circle cx="765.7" cy="753.2" r="4.9"/><circle cx="718.4" cy="762.8" r="4.9"/><circle cx="738.6" cy="763.5" r="4.9"/><circle cx="760.3" cy="773.4" r="4.9"/><circle cx="846.0" cy="764.2" r="4.9"/><circle cx="844.6" cy="770.4" r="4.9"/><circle cx="858.3" cy="769.0" r="4.9"/><circle cx="855.6" cy="776.5" r="4.9"/><circle cx="913.2" cy="754.9" r="4.9"/><circle cx="951.3" cy="772.7" r="4.9"/><circle cx="775.3" cy="781.3" r="4.9"/><circle cx="769.9" cy="786.8" r="4.9"/><circle cx="787.0" cy="782.3" r="4.9"/><circle cx="792.5" cy="780.9" r="4.9"/><circle cx="726.0" cy="793.7" r="4.9"/><circle cx="731.5" cy="795.1" r="4.9"/><circle cx="739.0" cy="793.0" r="4.9"/><circle cx="800.0" cy="796.4" r="4.9"/><circle cx="903.3" cy="789.2" r="4.9"/><circle cx="787.0" cy="808.8" r="4.9"/><circle cx="786.3" cy="817.7" r="4.9"/><circle cx="742.2" cy="814.9" r="4.9"/><circle cx="824.3" cy="824.8" r="4.9"/><circle cx="840.5" cy="820.7" r="4.9"/><circle cx="845.3" cy="820.2" r="4.9"/><circle cx="893.7" cy="811.9" r="4.9"/><circle cx="893.0" cy="831.1" r="4.9"/><circle cx="790.4" cy="839.6" r="4.9"/><circle cx="756.6" cy="846.8" r="4.9"/><circle cx="951.8" cy="855.8" r="4.9"/><circle cx="770.3" cy="865.7" r="4.9"/><circle cx="787.4" cy="896.9" r="4.9"/><circle cx="804.1" cy="892.7" r="4.9"/><circle cx="218.7" cy="1025.6" r="4.9"/><circle cx="228.5" cy="1025.6" r="4.9"/><circle cx="246.7" cy="1020.6" r="4.9"/><circle cx="273.3" cy="1015.4" r="4.9"/><circle cx="289.4" cy="1005.8" r="4.9"/><circle cx="307.5" cy="1002.2" r="4.9"/><circle cx="327.3" cy="1003.4" r="4.9"/><circle cx="329.8" cy="1000.9" r="4.9"/><circle cx="342.9" cy="988.5" r="4.9"/><circle cx="317.9" cy="985.3" r="4.9"/><circle cx="318.2" cy="990.2" r="4.9"/><circle cx="327.3" cy="970.9" r="4.9"/><circle cx="299.3" cy="958.9" r="4.9"/><circle cx="314.1" cy="958.1" r="4.9"/><circle cx="347.9" cy="954.8" r="4.9"/><circle cx="363.5" cy="956.5" r="4.9"/><circle cx="356.9" cy="963.0" r="4.9"/><circle cx="347.0" cy="964.7" r="4.9"/><circle cx="358.6" cy="992.7" r="4.9"/><circle cx="364.3" cy="1000.1" r="4.9"/><circle cx="369.2" cy="984.4" r="4.9"/><circle cx="371.7" cy="991.0" r="4.9"/><circle cx="379.9" cy="949.1" r="4.9"/><circle cx="388.2" cy="954.8" r="4.9"/><circle cx="394.8" cy="956.5" r="4.9"/><circle cx="391.5" cy="969.6" r="4.9"/><circle cx="399.7" cy="964.7" r="4.9"/><circle cx="404.6" cy="972.9" r="4.9"/><circle cx="398.0" cy="982.8" r="4.9"/><circle cx="404.6" cy="989.4" r="4.9"/><circle cx="403.0" cy="948.2" r="4.9"/><circle cx="409.6" cy="951.5" r="4.9"/><circle cx="412.9" cy="959.7" r="4.9"/><circle cx="424.1" cy="973.7" r="4.9"/><circle cx="466.0" cy="516.0" r="4.9"/><circle cx="453.3" cy="521.8" r="4.9"/><circle cx="567.0" cy="505.2" r="4.9"/><circle cx="600.0" cy="496.2" r="4.9"/><circle cx="629.5" cy="510.2" r="4.9"/><circle cx="728.8" cy="509.8" r="4.9"/><circle cx="821.3" cy="523.2" r="4.9"/></g>
<g fill="#b81c22"><circle cx="126.5" cy="989.4" r="4.9"/><circle cx="124.9" cy="1005.8" r="4.9"/><circle cx="125.7" cy="1012.4" r="4.9"/><circle cx="124.9" cy="1019.0" r="4.9"/><circle cx="124.1" cy="1025.6" r="4.9"/><circle cx="124.1" cy="1032.2" r="4.9"/><circle cx="123.2" cy="1038.7" r="4.9"/><circle cx="123.2" cy="1051.9" r="4.9"/><circle cx="131.5" cy="1043.7" r="4.9"/></g>
<path d="M121.0 496.3V1050.0H960.0" stroke="#000" stroke-width="2.2" fill="none"/>
<rect x="121.0" y="952.7" width="42.0" height="97.3" stroke="#000" stroke-width="2.8" fill="none"/>
<text x="96.9" y="1057.3" font-size="21.4" text-anchor="end">0</text>
<text x="96.9" y="1001.9" font-size="21.4" text-anchor="end">500</text>
<text x="96.9" y="946.6" font-size="21.4" text-anchor="end">1000</text>
<text x="96.9" y="891.2" font-size="21.4" text-anchor="end">1500</text>
<text x="96.9" y="835.8" font-size="21.4" text-anchor="end">2000</text>
<text x="96.9" y="780.4" font-size="21.4" text-anchor="end">2500</text>
<text x="96.9" y="725.1" font-size="21.4" text-anchor="end">3000</text>
<text x="96.9" y="669.7" font-size="21.4" text-anchor="end">3500</text>
<text x="96.9" y="614.3" font-size="21.4" text-anchor="end">4000</text>
<text x="96.9" y="559.0" font-size="21.4" text-anchor="end">4500</text>
<text x="96.9" y="503.6" font-size="21.4" text-anchor="end">5000</text>
<text x="121.0" y="1089.5" font-size="21.4" text-anchor="middle">0</text>
<text x="232.9" y="1089.5" font-size="21.4" text-anchor="middle">200</text>
<text x="344.8" y="1089.5" font-size="21.4" text-anchor="middle">400</text>
<text x="456.7" y="1089.5" font-size="21.4" text-anchor="middle">600</text>
<text x="568.6" y="1089.5" font-size="21.4" text-anchor="middle">800</text>
<text x="680.5" y="1089.5" font-size="21.4" text-anchor="middle">1000</text>
<text x="792.4" y="1089.5" font-size="21.4" text-anchor="middle">1200</text>
<text x="904.3" y="1089.5" font-size="21.4" text-anchor="middle">1400</text>
<path d="M121.0 952.7L195.0 527.0M163.0 1050.0L911.5 527.0" stroke="#000" stroke-width="1.1" stroke-dasharray="4.2 2.5" fill="none"/>
<rect x="199.9" y="111.4" width="715.7" height="415.6" fill="#fff" fill-opacity="0.8"/>
<path d="M199.9 423.1H915.6M199.9 319.2H915.6M199.9 215.3H915.6M343.0 111.4V527.0M486.2 111.4V527.0M629.3 111.4V527.0M772.5 111.4V527.0" stroke="#d9d9d9" stroke-width="2" fill="none"/>
<g fill="#1b6ab5"><circle cx="429.0" cy="116.2" r="4.6"/><circle cx="472.1" cy="112.2" r="4.6"/><circle cx="543.2" cy="128.0" r="4.6"/><circle cx="443.4" cy="139.9" r="4.6"/><circle cx="429.0" cy="173.9" r="4.6"/><circle cx="414.6" cy="192.2" r="4.6"/><circle cx="385.6" cy="205.3" r="4.6"/><circle cx="385.6" cy="229.7" r="4.6"/><circle cx="343.1" cy="289.0" r="4.6"/><circle cx="443.4" cy="297.1" r="4.6"/><circle cx="385.6" cy="307.4" r="4.6"/><circle cx="629.7" cy="183.7" r="4.6"/><circle cx="843.9" cy="149.7" r="4.6"/><circle cx="815.3" cy="192.1" r="4.6"/><circle cx="786.9" cy="217.1" r="4.6"/><circle cx="829.7" cy="221.5" r="4.6"/><circle cx="800.9" cy="231.5" r="4.6"/><circle cx="829.7" cy="251.6" r="4.6"/><circle cx="858.3" cy="259.2" r="4.6"/><circle cx="800.9" cy="269.2" r="4.6"/><circle cx="800.9" cy="272.6" r="4.6"/><circle cx="829.7" cy="289.8" r="4.6"/><circle cx="658.1" cy="316.6" r="4.6"/><circle cx="672.1" cy="319.6" r="4.6"/><circle cx="328.7" cy="344.1" r="4.6"/><circle cx="300.1" cy="356.5" r="4.6"/><circle cx="300.1" cy="361.9" r="4.6"/><circle cx="328.7" cy="399.4" r="4.6"/><circle cx="343.1" cy="401.0" r="4.6"/><circle cx="414.6" cy="422.7" r="4.6"/><circle cx="400.0" cy="432.2" r="4.6"/><circle cx="400.0" cy="442.8" r="4.6"/><circle cx="285.8" cy="444.0" r="4.6"/><circle cx="457.2" cy="433.5" r="4.6"/><circle cx="429.0" cy="458.2" r="4.6"/><circle cx="443.4" cy="456.3" r="4.6"/><circle cx="500.7" cy="446.0" r="4.6"/><circle cx="472.1" cy="395.0" r="4.6"/><circle cx="514.9" cy="386.5" r="4.6"/><circle cx="528.7" cy="378.7" r="4.6"/><circle cx="528.7" cy="381.6" r="4.6"/><circle cx="543.0" cy="394.6" r="4.6"/><circle cx="514.9" cy="411.4" r="4.6"/><circle cx="414.6" cy="472.6" r="4.6"/><circle cx="457.2" cy="470.1" r="4.6"/><circle cx="485.9" cy="472.1" r="4.6"/><circle cx="514.9" cy="470.5" r="4.6"/><circle cx="528.7" cy="477.4" r="4.6"/><circle cx="543.0" cy="484.9" r="4.6"/><circle cx="500.7" cy="492.2" r="4.6"/><circle cx="514.9" cy="487.9" r="4.6"/><circle cx="528.7" cy="494.2" r="4.6"/><circle cx="528.7" cy="503.7" r="4.6"/><circle cx="528.7" cy="507.6" r="4.6"/><circle cx="328.7" cy="480.4" r="4.6"/><circle cx="343.1" cy="483.5" r="4.6"/><circle cx="371.3" cy="476.6" r="4.6"/><circle cx="385.6" cy="488.2" r="4.6"/><circle cx="400.0" cy="486.3" r="4.6"/><circle cx="414.6" cy="481.9" r="4.6"/><circle cx="414.6" cy="486.9" r="4.6"/><circle cx="414.6" cy="494.8" r="4.6"/><circle cx="328.7" cy="498.7" r="4.6"/><circle cx="343.1" cy="501.3" r="4.6"/><circle cx="385.6" cy="500.7" r="4.6"/><circle cx="400.0" cy="504.0" r="4.6"/><circle cx="429.0" cy="500.3" r="4.6"/><circle cx="443.4" cy="501.3" r="4.6"/><circle cx="457.2" cy="497.1" r="4.6"/><circle cx="429.0" cy="510.0" r="4.6"/><circle cx="443.4" cy="510.0" r="4.6"/><circle cx="457.2" cy="511.0" r="4.6"/><circle cx="271.6" cy="504.6" r="4.6"/><circle cx="271.6" cy="516.5" r="4.6"/><circle cx="300.1" cy="510.6" r="4.6"/><circle cx="356.9" cy="514.5" r="4.6"/><circle cx="371.3" cy="516.9" r="4.6"/><circle cx="554.4" cy="347.6" r="4.6"/><circle cx="554.4" cy="352.6" r="4.6"/><circle cx="554.4" cy="416.2" r="4.6"/><circle cx="658.1" cy="332.4" r="4.6"/><circle cx="629.5" cy="345.0" r="4.6"/><circle cx="672.1" cy="364.0" r="4.6"/><circle cx="672.1" cy="368.1" r="4.6"/><circle cx="686.5" cy="363.0" r="4.6"/><circle cx="729.8" cy="344.4" r="4.6"/><circle cx="758.2" cy="344.0" r="4.6"/><circle cx="772.6" cy="349.6" r="4.6"/><circle cx="772.6" cy="325.4" r="4.6"/><circle cx="815.3" cy="345.4" r="4.6"/><circle cx="872.9" cy="335.0" r="4.6"/><circle cx="887.4" cy="361.4" r="4.6"/><circle cx="643.7" cy="383.1" r="4.6"/><circle cx="643.7" cy="402.1" r="4.6"/><circle cx="572.0" cy="407.1" r="4.6"/><circle cx="643.7" cy="428.1" r="4.6"/><circle cx="715.2" cy="410.5" r="4.6"/><circle cx="758.2" cy="421.7" r="4.6"/><circle cx="772.6" cy="418.7" r="4.6"/><circle cx="729.8" cy="432.1" r="4.6"/><circle cx="772.6" cy="435.7" r="4.6"/><circle cx="615.1" cy="443.5" r="4.6"/><circle cx="715.2" cy="443.1" r="4.6"/><circle cx="887.4" cy="406.5" r="4.6"/><circle cx="887.4" cy="443.1" r="4.6"/><circle cx="786.9" cy="455.7" r="4.6"/><circle cx="829.7" cy="454.7" r="4.6"/><circle cx="858.3" cy="461.8" r="4.6"/><circle cx="843.9" cy="473.6" r="4.6"/><circle cx="887.4" cy="479.2" r="4.6"/><circle cx="615.1" cy="472.2" r="4.6"/><circle cx="629.5" cy="471.6" r="4.6"/><circle cx="643.7" cy="477.6" r="4.6"/><circle cx="572.0" cy="481.8" r="4.6"/><circle cx="572.0" cy="490.2" r="4.6"/><circle cx="572.0" cy="498.2" r="4.6"/><circle cx="643.7" cy="499.2" r="4.6"/><circle cx="686.5" cy="491.2" r="4.6"/><circle cx="772.6" cy="488.2" r="4.6"/></g>
<g fill="#b81c22"><circle cx="385.6" cy="242.2" r="4.6"/><circle cx="356.9" cy="258.6" r="4.6"/><circle cx="314.1" cy="323.0" r="4.6"/><circle cx="314.1" cy="342.7" r="4.6"/><circle cx="385.6" cy="380.2" r="4.6"/><circle cx="314.1" cy="416.2" r="4.6"/><circle cx="285.8" cy="430.6" r="4.6"/><circle cx="285.8" cy="452.7" r="4.6"/><circle cx="343.1" cy="448.0" r="4.6"/><circle cx="285.8" cy="470.5" r="4.6"/><circle cx="429.0" cy="476.6" r="4.6"/><circle cx="314.1" cy="489.8" r="4.6"/><circle cx="314.1" cy="494.8" r="4.6"/><circle cx="285.8" cy="503.7" r="4.6"/><circle cx="300.1" cy="508.2" r="4.6"/><circle cx="285.8" cy="515.5" r="4.6"/><circle cx="314.1" cy="512.5" r="4.6"/><circle cx="314.1" cy="516.5" r="4.6"/><circle cx="414.6" cy="511.0" r="4.6"/><circle cx="300.1" cy="523.4" r="4.6"/></g>
<g fill="#1b6ab5"><circle cx="285.8" cy="506.6" r="4.6"/></g>
<path d="M421.9 116.0V526.0" stroke="#000" stroke-width="2.6" stroke-dasharray="12.3 8.45" fill="none"/>
<rect x="199.9" y="111.4" width="715.7" height="415.6" fill="none" stroke="#000" stroke-width="1.5"/>
<text x="177.0" y="534.3" font-size="21.4" text-anchor="end">0</text>
<text x="177.0" y="430.4" font-size="21.4" text-anchor="end">200</text>
<text x="177.0" y="326.5" font-size="21.4" text-anchor="end">400</text>
<text x="177.0" y="222.6" font-size="21.4" text-anchor="end">600</text>
<text x="177.0" y="118.7" font-size="21.4" text-anchor="end">800</text>
<text x="199.9" y="566.2" font-size="21.4" text-anchor="middle">0</text>
<text x="343.0" y="566.2" font-size="21.4" text-anchor="middle">10</text>
<text x="486.2" y="566.2" font-size="21.4" text-anchor="middle">20</text>
<text x="629.3" y="566.2" font-size="21.4" text-anchor="middle">30</text>
<text x="772.5" y="566.2" font-size="21.4" text-anchor="middle">40</text>
<text x="915.6" y="566.2" font-size="21.4" text-anchor="middle">50</text>
<path d="M1142.5 991.0H1996.4M1142.5 935.8H1996.4M1142.5 880.6H1996.4M1142.5 825.4H1996.4M1142.5 770.2H1996.4M1142.5 715.1H1996.4M1142.5 659.9H1996.4M1142.5 604.7H1996.4M1142.5 549.5H1996.4M1142.5 494.3H1996.4M1257.7 494.3V1046.2M1372.9 494.3V1046.2M1488.1 494.3V1046.2M1603.3 494.3V1046.2M1718.5 494.3V1046.2M1833.7 494.3V1046.2M1948.9 494.3V1046.2" stroke="#d9d9d9" stroke-width="2" fill="none"/>
<g fill="#1b6ab5"><circle cx="1230.8" cy="945.1" r="4.6"/><circle cx="1192.1" cy="948.9" r="4.6"/><circle cx="1216.8" cy="948.6" r="4.6"/><circle cx="1222.3" cy="950.7" r="4.6"/><circle cx="1231.2" cy="948.0" r="4.6"/><circle cx="1237.1" cy="948.9" r="4.6"/><circle cx="1188.7" cy="955.5" r="4.6"/><circle cx="1195.0" cy="956.0" r="4.6"/><circle cx="1200.4" cy="954.9" r="4.6"/><circle cx="1212.4" cy="954.7" r="4.6"/><circle cx="1217.8" cy="956.3" r="4.6"/><circle cx="1227.8" cy="953.0" r="4.6"/><circle cx="1233.0" cy="955.6" r="4.6"/><circle cx="1240.3" cy="955.9" r="4.6"/><circle cx="1182.8" cy="958.6" r="4.6"/><circle cx="1191.1" cy="960.0" r="4.6"/><circle cx="1197.2" cy="961.5" r="4.6"/><circle cx="1208.3" cy="960.3" r="4.6"/><circle cx="1215.1" cy="960.2" r="4.6"/><circle cx="1223.1" cy="958.9" r="4.6"/><circle cx="1228.5" cy="961.3" r="4.6"/><circle cx="1235.5" cy="960.1" r="4.6"/><circle cx="1244.1" cy="958.9" r="4.6"/><circle cx="1180.4" cy="964.4" r="4.6"/><circle cx="1185.5" cy="964.0" r="4.6"/><circle cx="1193.5" cy="964.0" r="4.6"/><circle cx="1201.6" cy="964.6" r="4.6"/><circle cx="1206.9" cy="964.7" r="4.6"/><circle cx="1211.6" cy="964.9" r="4.6"/><circle cx="1219.8" cy="967.5" r="4.6"/><circle cx="1224.7" cy="966.6" r="4.6"/><circle cx="1246.1" cy="964.2" r="4.6"/><circle cx="1176.6" cy="970.4" r="4.6"/><circle cx="1185.7" cy="969.5" r="4.6"/><circle cx="1191.0" cy="972.2" r="4.6"/><circle cx="1197.3" cy="969.7" r="4.6"/><circle cx="1204.3" cy="972.1" r="4.6"/><circle cx="1208.9" cy="970.7" r="4.6"/><circle cx="1216.7" cy="971.9" r="4.6"/><circle cx="1222.2" cy="969.5" r="4.6"/><circle cx="1248.5" cy="973.1" r="4.6"/><circle cx="1254.6" cy="969.8" r="4.6"/><circle cx="1173.3" cy="977.9" r="4.6"/><circle cx="1179.6" cy="976.2" r="4.6"/><circle cx="1187.7" cy="976.2" r="4.6"/><circle cx="1194.8" cy="975.6" r="4.6"/><circle cx="1200.5" cy="978.1" r="4.6"/><circle cx="1221.5" cy="977.4" r="4.6"/><circle cx="1226.0" cy="977.0" r="4.6"/><circle cx="1237.5" cy="978.0" r="4.6"/><circle cx="1247.2" cy="976.8" r="4.6"/><circle cx="1250.2" cy="977.3" r="4.6"/><circle cx="1260.5" cy="977.1" r="4.6"/><circle cx="1264.6" cy="977.0" r="4.6"/><circle cx="1165.3" cy="983.2" r="4.6"/><circle cx="1171.6" cy="983.5" r="4.6"/><circle cx="1176.8" cy="982.3" r="4.6"/><circle cx="1184.4" cy="983.3" r="4.6"/><circle cx="1190.9" cy="981.2" r="4.6"/><circle cx="1197.1" cy="981.1" r="4.6"/><circle cx="1203.2" cy="981.6" r="4.6"/><circle cx="1227.6" cy="982.7" r="4.6"/><circle cx="1235.1" cy="980.9" r="4.6"/><circle cx="1241.0" cy="983.4" r="4.6"/><circle cx="1247.0" cy="981.4" r="4.6"/><circle cx="1257.3" cy="984.4" r="4.6"/><circle cx="1262.6" cy="982.8" r="4.6"/><circle cx="1267.0" cy="983.3" r="4.6"/><circle cx="1167.7" cy="987.3" r="4.6"/><circle cx="1174.1" cy="988.9" r="4.6"/><circle cx="1182.0" cy="987.6" r="4.6"/><circle cx="1185.7" cy="988.5" r="4.6"/><circle cx="1193.2" cy="989.3" r="4.6"/><circle cx="1201.1" cy="989.5" r="4.6"/><circle cx="1225.2" cy="989.1" r="4.6"/><circle cx="1232.8" cy="989.7" r="4.6"/><circle cx="1238.1" cy="987.4" r="4.6"/><circle cx="1247.6" cy="987.6" r="4.6"/><circle cx="1254.1" cy="989.5" r="4.6"/><circle cx="1259.9" cy="988.7" r="4.6"/><circle cx="1266.7" cy="988.5" r="4.6"/><circle cx="1157.3" cy="995.1" r="4.6"/><circle cx="1165.2" cy="995.4" r="4.6"/><circle cx="1172.4" cy="993.7" r="4.6"/><circle cx="1178.8" cy="994.7" r="4.6"/><circle cx="1183.8" cy="993.9" r="4.6"/><circle cx="1195.0" cy="994.7" r="4.6"/><circle cx="1202.2" cy="995.5" r="4.6"/><circle cx="1210.1" cy="995.7" r="4.6"/><circle cx="1216.5" cy="994.1" r="4.6"/><circle cx="1223.7" cy="992.1" r="4.6"/><circle cx="1231.1" cy="995.2" r="4.6"/><circle cx="1236.0" cy="992.6" r="4.6"/><circle cx="1241.5" cy="994.8" r="4.6"/><circle cx="1250.0" cy="994.5" r="4.6"/><circle cx="1253.7" cy="992.2" r="4.6"/><circle cx="1261.8" cy="992.6" r="4.6"/><circle cx="1267.3" cy="994.6" r="4.6"/><circle cx="1152.8" cy="998.8" r="4.6"/><circle cx="1161.5" cy="999.2" r="4.6"/><circle cx="1168.7" cy="1000.4" r="4.6"/><circle cx="1174.4" cy="999.2" r="4.6"/><circle cx="1180.8" cy="998.5" r="4.6"/><circle cx="1185.5" cy="998.7" r="4.6"/><circle cx="1194.5" cy="1001.1" r="4.6"/><circle cx="1201.6" cy="998.0" r="4.6"/><circle cx="1206.4" cy="999.4" r="4.6"/><circle cx="1214.1" cy="998.4" r="4.6"/><circle cx="1221.0" cy="997.8" r="4.6"/><circle cx="1225.1" cy="997.9" r="4.6"/><circle cx="1231.5" cy="1001.2" r="4.6"/><circle cx="1238.9" cy="1000.3" r="4.6"/><circle cx="1247.0" cy="1000.5" r="4.6"/><circle cx="1254.0" cy="1001.4" r="4.6"/><circle cx="1258.9" cy="1000.6" r="4.6"/><circle cx="1266.5" cy="998.9" r="4.6"/><circle cx="1151.9" cy="1003.4" r="4.6"/><circle cx="1157.8" cy="1004.6" r="4.6"/><circle cx="1165.1" cy="1003.6" r="4.6"/><circle cx="1172.8" cy="1003.9" r="4.6"/><circle cx="1179.1" cy="1005.7" r="4.6"/><circle cx="1184.8" cy="1003.7" r="4.6"/><circle cx="1189.2" cy="1006.9" r="4.6"/><circle cx="1197.5" cy="1005.8" r="4.6"/><circle cx="1204.1" cy="1006.3" r="4.6"/><circle cx="1210.2" cy="1004.8" r="4.6"/><circle cx="1215.7" cy="1005.3" r="4.6"/><circle cx="1223.9" cy="1004.7" r="4.6"/><circle cx="1230.8" cy="1004.8" r="4.6"/><circle cx="1236.0" cy="1003.4" r="4.6"/><circle cx="1243.8" cy="1004.0" r="4.6"/><circle cx="1250.3" cy="1006.4" r="4.6"/><circle cx="1254.1" cy="1004.0" r="4.6"/><circle cx="1263.6" cy="1004.7" r="4.6"/><circle cx="1148.1" cy="1009.2" r="4.6"/><circle cx="1154.2" cy="1009.6" r="4.6"/><circle cx="1161.4" cy="1011.9" r="4.6"/><circle cx="1169.5" cy="1009.9" r="4.6"/><circle cx="1172.9" cy="1010.1" r="4.6"/><circle cx="1180.5" cy="1009.5" r="4.6"/><circle cx="1187.4" cy="1011.4" r="4.6"/><circle cx="1195.4" cy="1010.4" r="4.6"/><circle cx="1199.8" cy="1010.5" r="4.6"/><circle cx="1207.9" cy="1009.2" r="4.6"/><circle cx="1213.1" cy="1009.6" r="4.6"/><circle cx="1221.0" cy="1009.3" r="4.6"/><circle cx="1227.2" cy="1011.9" r="4.6"/><circle cx="1231.8" cy="1009.8" r="4.6"/><circle cx="1239.3" cy="1011.4" r="4.6"/><circle cx="1247.5" cy="1010.3" r="4.6"/><circle cx="1251.5" cy="1011.6" r="4.6"/><circle cx="1146.2" cy="1014.9" r="4.6"/><circle cx="1150.6" cy="1018.2" r="4.6"/><circle cx="1158.7" cy="1017.0" r="4.6"/><circle cx="1163.2" cy="1017.5" r="4.6"/><circle cx="1171.4" cy="1014.8" r="4.6"/><circle cx="1177.3" cy="1016.0" r="4.6"/><circle cx="1182.8" cy="1014.9" r="4.6"/><circle cx="1189.2" cy="1015.4" r="4.6"/><circle cx="1197.9" cy="1017.2" r="4.6"/><circle cx="1202.6" cy="1015.2" r="4.6"/><circle cx="1209.2" cy="1015.2" r="4.6"/><circle cx="1215.0" cy="1015.1" r="4.6"/><circle cx="1223.5" cy="1016.4" r="4.6"/><circle cx="1230.3" cy="1016.7" r="4.6"/><circle cx="1237.1" cy="1015.5" r="4.6"/><circle cx="1148.2" cy="1023.9" r="4.6"/><circle cx="1154.8" cy="1023.6" r="4.6"/><circle cx="1160.6" cy="1021.7" r="4.6"/><circle cx="1167.0" cy="1021.5" r="4.6"/><circle cx="1176.0" cy="1023.3" r="4.6"/><circle cx="1179.2" cy="1021.5" r="4.6"/><circle cx="1187.6" cy="1023.5" r="4.6"/><circle cx="1192.5" cy="1023.8" r="4.6"/><circle cx="1200.1" cy="1022.1" r="4.6"/><circle cx="1205.8" cy="1022.9" r="4.6"/><circle cx="1213.9" cy="1020.7" r="4.6"/><circle cx="1219.6" cy="1021.3" r="4.6"/><circle cx="1146.0" cy="1028.6" r="4.6"/><circle cx="1153.1" cy="1026.7" r="4.6"/><circle cx="1156.5" cy="1029.5" r="4.6"/><circle cx="1166.1" cy="1027.8" r="4.6"/><circle cx="1169.6" cy="1025.8" r="4.6"/><circle cx="1176.2" cy="1029.0" r="4.6"/><circle cx="1185.8" cy="1026.7" r="4.6"/><circle cx="1191.8" cy="1025.9" r="4.6"/><circle cx="1195.0" cy="1027.0" r="4.6"/><circle cx="1203.4" cy="1027.2" r="4.6"/><circle cx="1210.7" cy="1026.8" r="4.6"/><circle cx="1149.7" cy="1033.9" r="4.6"/><circle cx="1154.5" cy="1032.8" r="4.6"/><circle cx="1161.6" cy="1033.4" r="4.6"/><circle cx="1168.9" cy="1032.6" r="4.6"/><circle cx="1172.5" cy="1034.7" r="4.6"/><circle cx="1181.6" cy="1032.5" r="4.6"/><circle cx="1186.0" cy="1032.3" r="4.6"/><circle cx="1193.0" cy="1032.1" r="4.6"/><circle cx="1198.8" cy="1033.9" r="4.6"/><circle cx="1152.5" cy="1038.0" r="4.6"/><circle cx="1158.4" cy="1040.7" r="4.6"/><circle cx="1166.3" cy="1037.2" r="4.6"/><circle cx="1170.9" cy="1037.8" r="4.6"/><circle cx="1177.5" cy="1039.9" r="4.6"/><circle cx="1182.7" cy="1040.1" r="4.6"/><circle cx="1232.6" cy="823.5" r="4.6"/><circle cx="1321.0" cy="825.1" r="4.6"/><circle cx="1243.3" cy="843.7" r="4.6"/><circle cx="1252.4" cy="842.4" r="4.6"/><circle cx="1259.8" cy="841.6" r="4.6"/><circle cx="1231.3" cy="849.3" r="4.6"/><circle cx="1255.2" cy="853.1" r="4.6"/><circle cx="1717.3" cy="686.9" r="4.6"/><circle cx="1673.4" cy="716.2" r="4.6"/><circle cx="1696.2" cy="826.3" r="4.6"/><circle cx="1456.5" cy="845.7" r="4.6"/><circle cx="1473.7" cy="846.5" r="4.6"/><circle cx="1603.7" cy="853.1" r="4.6"/><circle cx="1667.6" cy="847.7" r="4.6"/><circle cx="1758.3" cy="815.1" r="4.6"/><circle cx="1782.1" cy="808.3" r="4.6"/><circle cx="1231.9" cy="851.1" r="4.6"/><circle cx="1255.2" cy="853.3" r="4.6"/><circle cx="1246.4" cy="861.5" r="4.6"/><circle cx="1291.7" cy="861.8" r="4.6"/><circle cx="1214.1" cy="868.9" r="4.6"/><circle cx="1275.5" cy="879.8" r="4.6"/><circle cx="1269.5" cy="884.6" r="4.6"/><circle cx="1218.4" cy="885.1" r="4.6"/><circle cx="1218.1" cy="892.8" r="4.6"/><circle cx="1213.0" cy="897.7" r="4.6"/><circle cx="1226.7" cy="897.0" r="4.6"/><circle cx="1246.2" cy="905.7" r="4.6"/><circle cx="1279.7" cy="906.2" r="4.6"/><circle cx="1261.2" cy="914.7" r="4.6"/><circle cx="1212.4" cy="909.2" r="4.6"/><circle cx="1216.8" cy="914.7" r="4.6"/><circle cx="1221.2" cy="919.1" r="4.6"/><circle cx="1225.6" cy="923.5" r="4.6"/><circle cx="1228.9" cy="927.9" r="4.6"/><circle cx="1231.1" cy="933.4" r="4.6"/><circle cx="1233.3" cy="938.9" r="4.6"/><circle cx="1235.4" cy="944.3" r="4.6"/><circle cx="1206.4" cy="921.9" r="4.6"/><circle cx="1215.7" cy="927.3" r="4.6"/><circle cx="1210.2" cy="933.4" r="4.6"/><circle cx="1209.1" cy="940.0" r="4.6"/><circle cx="1208.0" cy="945.4" r="4.6"/><circle cx="1203.6" cy="947.6" r="4.6"/><circle cx="1154.3" cy="929.0" r="4.6"/><circle cx="1158.1" cy="933.4" r="4.6"/><circle cx="1170.5" cy="937.0" r="4.6"/><circle cx="1196.0" cy="938.1" r="4.6"/><circle cx="1157.0" cy="944.9" r="4.6"/><circle cx="1294.7" cy="931.7" r="4.6"/><circle cx="1307.0" cy="936.7" r="4.6"/><circle cx="1329.8" cy="926.8" r="4.6"/><circle cx="1325.4" cy="927.9" r="4.6"/><circle cx="1339.1" cy="924.6" r="4.6"/><circle cx="1253.5" cy="938.3" r="4.6"/><circle cx="1260.7" cy="938.9" r="4.6"/><circle cx="1271.7" cy="938.9" r="4.6"/><circle cx="1284.3" cy="940.5" r="4.6"/><circle cx="1285.9" cy="946.5" r="4.6"/><circle cx="1248.6" cy="945.4" r="4.6"/><circle cx="1265.1" cy="946.5" r="4.6"/><circle cx="1277.1" cy="952.6" r="4.6"/><circle cx="1277.1" cy="958.6" r="4.6"/><circle cx="1266.2" cy="959.7" r="4.6"/><circle cx="1272.7" cy="966.8" r="4.6"/><circle cx="1289.2" cy="965.2" r="4.6"/><circle cx="1293.6" cy="965.2" r="4.6"/><circle cx="1322.7" cy="944.3" r="4.6"/><circle cx="1330.3" cy="949.8" r="4.6"/><circle cx="1311.7" cy="953.1" r="4.6"/><circle cx="1315.5" cy="959.7" r="4.6"/><circle cx="1319.9" cy="963.0" r="4.6"/><circle cx="1304.6" cy="963.0" r="4.6"/><circle cx="1309.5" cy="969.6" r="4.6"/><circle cx="1315.5" cy="968.5" r="4.6"/><circle cx="1289.2" cy="978.4" r="4.6"/><circle cx="1296.3" cy="989.3" r="4.6"/><circle cx="1304.6" cy="988.2" r="4.6"/><circle cx="1313.3" cy="987.7" r="4.6"/><circle cx="1310.6" cy="991.5" r="4.6"/><circle cx="1278.8" cy="994.8" r="4.6"/><circle cx="1284.8" cy="1003.0" r="4.6"/><circle cx="1302.4" cy="1002.5" r="4.6"/><circle cx="1305.7" cy="1005.8" r="4.6"/><circle cx="1327.1" cy="997.6" r="4.6"/><circle cx="1151.0" cy="974.0" r="4.6"/><circle cx="1156.5" cy="969.0" r="4.6"/><circle cx="1152.1" cy="987.7" r="4.6"/><circle cx="1180.6" cy="964.6" r="4.6"/><circle cx="1212.4" cy="955.9" r="4.6"/><circle cx="1223.4" cy="952.0" r="4.6"/><circle cx="1242.0" cy="959.2" r="4.6"/><circle cx="1247.5" cy="958.1" r="4.6"/><circle cx="1249.7" cy="961.9" r="4.6"/><circle cx="1240.4" cy="983.8" r="4.6"/><circle cx="1244.2" cy="978.4" r="4.6"/><circle cx="1253.0" cy="969.6" r="4.6"/><circle cx="1258.5" cy="974.0" r="4.6"/><circle cx="1272.7" cy="980.6" r="4.6"/><circle cx="1225.6" cy="980.0" r="4.6"/><circle cx="1226.7" cy="991.0" r="4.6"/><circle cx="1249.2" cy="1016.2" r="4.6"/><circle cx="1233.8" cy="1014.6" r="4.6"/><circle cx="1153.4" cy="975.0" r="4.6"/><circle cx="1157.0" cy="968.2" r="4.6"/><circle cx="1152.4" cy="987.5" r="4.6"/><circle cx="1146.7" cy="1007.3" r="4.6"/><circle cx="1180.5" cy="964.6" r="4.6"/><circle cx="1358.9" cy="877.6" r="4.6"/><circle cx="1385.6" cy="875.2" r="4.6"/><circle cx="1395.1" cy="873.4" r="4.6"/><circle cx="1402.9" cy="864.5" r="4.6"/><circle cx="1420.1" cy="876.3" r="4.6"/><circle cx="1578.9" cy="866.0" r="4.6"/><circle cx="1593.4" cy="872.5" r="4.6"/><circle cx="1563.8" cy="876.3" r="4.6"/><circle cx="1351.8" cy="905.1" r="4.6"/><circle cx="1364.4" cy="914.2" r="4.6"/><circle cx="1363.0" cy="919.9" r="4.6"/><circle cx="1415.7" cy="906.0" r="4.6"/><circle cx="1426.4" cy="902.3" r="4.6"/><circle cx="1499.6" cy="899.9" r="4.6"/><circle cx="1509.5" cy="898.9" r="4.6"/><circle cx="1553.9" cy="910.1" r="4.6"/><circle cx="1534.2" cy="940.2" r="4.6"/><circle cx="1344.9" cy="953.7" r="4.6"/><circle cx="1352.3" cy="955.8" r="4.6"/><circle cx="1363.9" cy="950.7" r="4.6"/><circle cx="1366.3" cy="957.8" r="4.6"/><circle cx="1344.9" cy="961.6" r="4.6"/><circle cx="1354.8" cy="966.0" r="4.6"/><circle cx="1347.9" cy="975.9" r="4.6"/><circle cx="1360.6" cy="986.9" r="4.6"/><circle cx="1374.2" cy="986.9" r="4.6"/><circle cx="1401.7" cy="961.1" r="4.6"/><circle cx="1407.8" cy="964.0" r="4.6"/><circle cx="1436.8" cy="980.5" r="4.6"/><circle cx="1468.0" cy="976.2" r="4.6"/><circle cx="1479.9" cy="952.4" r="4.6"/><circle cx="1482.8" cy="949.6" r="4.6"/><circle cx="1581.9" cy="961.1" r="4.6"/><circle cx="1658.4" cy="890.5" r="4.6"/><circle cx="1681.5" cy="942.2" r="4.6"/><circle cx="1774.3" cy="885.5" r="4.6"/><circle cx="1806.9" cy="883.0" r="4.6"/></g>
<g fill="#b81c22"><circle cx="1147.2" cy="997.7" r="4.6"/><circle cx="1146.1" cy="1012.0" r="4.6"/><circle cx="1146.0" cy="1018.0" r="4.6"/><circle cx="1145.6" cy="1024.0" r="4.6"/><circle cx="1146.0" cy="1049.0" r="4.6"/><circle cx="1150.0" cy="1036.0" r="4.6"/></g>
<path d="M1142.5 494.3V1046.2H1996.4" stroke="#000" stroke-width="2.2" fill="none"/>
<rect x="1142.5" y="949.2" width="41.8" height="97.0" stroke="#000" stroke-width="2.8" fill="none"/>
<text x="1114.4" y="1054.5" font-size="24.8" text-anchor="end">0</text>
<text x="1114.4" y="999.3" font-size="24.8" text-anchor="end">500</text>
<text x="1114.4" y="944.1" font-size="24.8" text-anchor="end">1000</text>
<text x="1114.4" y="888.9" font-size="24.8" text-anchor="end">1500</text>
<text x="1114.4" y="833.7" font-size="24.8" text-anchor="end">2000</text>
<text x="1114.4" y="778.5" font-size="24.8" text-anchor="end">2500</text>
<text x="1114.4" y="723.4" font-size="24.8" text-anchor="end">3000</text>
<text x="1114.4" y="668.2" font-size="24.8" text-anchor="end">3500</text>
<text x="1114.4" y="613.0" font-size="24.8" text-anchor="end">4000</text>
<text x="1114.4" y="557.8" font-size="24.8" text-anchor="end">4500</text>
<text x="1114.4" y="502.6" font-size="24.8" text-anchor="end">5000</text>
<text x="1142.5" y="1091.1" font-size="24.8" text-anchor="middle">0</text>
<text x="1257.7" y="1091.1" font-size="24.8" text-anchor="middle">200</text>
<text x="1372.9" y="1091.1" font-size="24.8" text-anchor="middle">400</text>
<text x="1488.1" y="1091.1" font-size="24.8" text-anchor="middle">600</text>
<text x="1603.3" y="1091.1" font-size="24.8" text-anchor="middle">800</text>
<text x="1718.5" y="1091.1" font-size="24.8" text-anchor="middle">1000</text>
<text x="1833.7" y="1091.1" font-size="24.8" text-anchor="middle">1200</text>
<text x="1948.9" y="1091.1" font-size="24.8" text-anchor="middle">1400</text>
<path d="M1142.5 949.2L1234.0 527.2M1184.3 1046.2L1947.0 527.2" stroke="#000" stroke-width="1.1" stroke-dasharray="4.2 2.5" fill="none"/>
<rect x="1234.1" y="108.5" width="716.0" height="418.7" fill="#fff" fill-opacity="0.8"/>
<path d="M1234.1 422.5H1950.1M1234.1 317.9H1950.1M1234.1 213.2H1950.1M1377.3 108.5V527.2M1520.5 108.5V527.2M1663.7 108.5V527.2M1806.9 108.5V527.2" stroke="#d9d9d9" stroke-width="2" fill="none"/>
<g fill="#1b6ab5"><circle cx="1434.4" cy="190.4" r="4.7"/><circle cx="1562.7" cy="187.9" r="4.7"/><circle cx="1491.7" cy="252.5" r="4.7"/><circle cx="1519.9" cy="303.0" r="4.7"/><circle cx="1620.4" cy="167.5" r="4.7"/><circle cx="1593.0" cy="294.6" r="4.7"/><circle cx="1777.6" cy="282.2" r="4.7"/><circle cx="1863.9" cy="265.8" r="4.7"/><circle cx="1892.3" cy="252.2" r="4.7"/><circle cx="1906.7" cy="252.2" r="4.7"/><circle cx="1921.4" cy="274.2" r="4.7"/><circle cx="1892.3" cy="284.6" r="4.7"/><circle cx="1877.9" cy="298.2" r="4.7"/><circle cx="1892.3" cy="300.6" r="4.7"/><circle cx="1892.3" cy="312.8" r="4.7"/><circle cx="1921.4" cy="310.8" r="4.7"/><circle cx="1749.6" cy="314.8" r="4.7"/><circle cx="1806.2" cy="319.6" r="4.7"/><circle cx="1348.1" cy="355.2" r="4.7"/><circle cx="1390.9" cy="447.4" r="4.7"/><circle cx="1405.2" cy="441.4" r="4.7"/><circle cx="1405.2" cy="446.4" r="4.7"/><circle cx="1463.0" cy="421.1" r="4.7"/><circle cx="1491.7" cy="414.4" r="4.7"/><circle cx="1491.7" cy="417.2" r="4.7"/><circle cx="1519.9" cy="415.4" r="4.7"/><circle cx="1577.6" cy="402.0" r="4.7"/><circle cx="1519.9" cy="438.5" r="4.7"/><circle cx="1463.0" cy="446.4" r="4.7"/><circle cx="1491.7" cy="448.8" r="4.7"/><circle cx="1505.5" cy="454.7" r="4.7"/><circle cx="1577.6" cy="438.1" r="4.7"/><circle cx="1589.0" cy="444.4" r="4.7"/><circle cx="1577.6" cy="455.7" r="4.7"/><circle cx="1463.0" cy="459.2" r="4.7"/><circle cx="1463.0" cy="465.1" r="4.7"/><circle cx="1534.1" cy="464.2" r="4.7"/><circle cx="1548.3" cy="467.5" r="4.7"/><circle cx="1519.9" cy="484.3" r="4.7"/><circle cx="1577.6" cy="482.3" r="4.7"/><circle cx="1491.7" cy="491.2" r="4.7"/><circle cx="1534.1" cy="494.8" r="4.7"/><circle cx="1562.7" cy="499.7" r="4.7"/><circle cx="1577.6" cy="494.8" r="4.7"/><circle cx="1589.0" cy="505.2" r="4.7"/><circle cx="1476.8" cy="509.0" r="4.7"/><circle cx="1505.5" cy="513.5" r="4.7"/><circle cx="1534.1" cy="510.0" r="4.7"/><circle cx="1548.3" cy="506.2" r="4.7"/><circle cx="1376.3" cy="514.5" r="4.7"/><circle cx="1405.2" cy="513.5" r="4.7"/><circle cx="1390.9" cy="499.1" r="4.7"/><circle cx="1706.1" cy="337.6" r="4.7"/><circle cx="1820.7" cy="357.0" r="4.7"/><circle cx="1877.9" cy="360.0" r="4.7"/><circle cx="1849.3" cy="369.7" r="4.7"/><circle cx="1792.2" cy="375.1" r="4.7"/><circle cx="1677.5" cy="399.1" r="4.7"/><circle cx="1749.6" cy="400.1" r="4.7"/><circle cx="1806.2" cy="400.1" r="4.7"/><circle cx="1820.7" cy="395.1" r="4.7"/><circle cx="1691.7" cy="417.7" r="4.7"/><circle cx="1863.9" cy="425.7" r="4.7"/><circle cx="1677.5" cy="432.1" r="4.7"/><circle cx="1720.1" cy="438.1" r="4.7"/><circle cx="1720.1" cy="451.1" r="4.7"/><circle cx="1834.7" cy="453.1" r="4.7"/><circle cx="1834.7" cy="458.2" r="4.7"/><circle cx="1892.3" cy="478.2" r="4.7"/><circle cx="1921.4" cy="482.6" r="4.7"/><circle cx="1877.9" cy="489.8" r="4.7"/><circle cx="1663.1" cy="496.8" r="4.7"/><circle cx="1691.7" cy="492.2" r="4.7"/><circle cx="1706.1" cy="490.6" r="4.7"/><circle cx="1620.4" cy="506.2" r="4.7"/></g>
<g fill="#b81c22"><circle cx="1376.5" cy="299.8" r="4.7"/><circle cx="1319.9" cy="378.7" r="4.7"/><circle cx="1319.9" cy="420.1" r="4.7"/><circle cx="1319.9" cy="430.0" r="4.7"/><circle cx="1319.9" cy="460.6" r="4.7"/><circle cx="1362.3" cy="450.7" r="4.7"/><circle cx="1376.3" cy="471.5" r="4.7"/><circle cx="1434.4" cy="449.3" r="4.7"/><circle cx="1434.4" cy="454.3" r="4.7"/><circle cx="1434.4" cy="458.2" r="4.7"/><circle cx="1448.6" cy="461.6" r="4.7"/><circle cx="1419.6" cy="471.1" r="4.7"/><circle cx="1405.2" cy="472.1" r="4.7"/><circle cx="1405.2" cy="478.0" r="4.7"/><circle cx="1405.2" cy="482.9" r="4.7"/><circle cx="1405.2" cy="487.9" r="4.7"/><circle cx="1376.3" cy="481.9" r="4.7"/><circle cx="1376.3" cy="486.9" r="4.7"/><circle cx="1376.3" cy="491.8" r="4.7"/><circle cx="1362.3" cy="485.5" r="4.7"/><circle cx="1362.3" cy="501.7" r="4.7"/><circle cx="1334.1" cy="480.9" r="4.7"/><circle cx="1348.1" cy="483.9" r="4.7"/><circle cx="1348.1" cy="489.8" r="4.7"/><circle cx="1348.1" cy="501.7" r="4.7"/><circle cx="1348.1" cy="507.6" r="4.7"/><circle cx="1348.1" cy="513.5" r="4.7"/><circle cx="1348.1" cy="517.5" r="4.7"/><circle cx="1348.1" cy="523.0" r="4.7"/><circle cx="1319.9" cy="497.7" r="4.7"/><circle cx="1319.9" cy="503.7" r="4.7"/><circle cx="1319.9" cy="509.6" r="4.7"/><circle cx="1319.9" cy="515.5" r="4.7"/><circle cx="1319.9" cy="520.4" r="4.7"/><circle cx="1319.9" cy="524.4" r="4.7"/><circle cx="1305.0" cy="496.7" r="4.7"/><circle cx="1305.0" cy="504.6" r="4.7"/><circle cx="1305.0" cy="509.6" r="4.7"/><circle cx="1305.0" cy="512.5" r="4.7"/><circle cx="1334.1" cy="508.6" r="4.7"/><circle cx="1334.1" cy="512.5" r="4.7"/><circle cx="1390.9" cy="505.6" r="4.7"/></g>
<g fill="#1b6ab5"><circle cx="1376.3" cy="499.1" r="4.7"/><circle cx="1362.3" cy="493.2" r="4.7"/><circle cx="1334.1" cy="493.8" r="4.7"/><circle cx="1334.1" cy="500.7" r="4.7"/><circle cx="1334.1" cy="515.5" r="4.7"/><circle cx="1319.9" cy="492.8" r="4.7"/><circle cx="1319.9" cy="510.6" r="4.7"/><circle cx="1348.1" cy="495.8" r="4.7"/><circle cx="1405.2" cy="490.8" r="4.7"/></g>
<path d="M1421.8 116.8V526.0" stroke="#000" stroke-width="2.6" stroke-dasharray="12.3 8.45" fill="none"/>
<rect x="1234.1" y="108.5" width="716.0" height="418.7" fill="none" stroke="#333" stroke-width="1.5"/>
<text x="1211.0" y="534.5" font-size="21.4" text-anchor="end">0</text>
<text x="1211.0" y="429.8" font-size="21.4" text-anchor="end">200</text>
<text x="1211.0" y="325.2" font-size="21.4" text-anchor="end">400</text>
<text x="1211.0" y="220.5" font-size="21.4" text-anchor="end">600</text>
<text x="1211.0" y="115.8" font-size="21.4" text-anchor="end">800</text>
<text x="1234.1" y="566.4" font-size="21.4" text-anchor="middle">0</text>
<text x="1377.3" y="566.4" font-size="21.4" text-anchor="middle">10</text>
<text x="1520.5" y="566.4" font-size="21.4" text-anchor="middle">20</text>
<text x="1663.7" y="566.4" font-size="21.4" text-anchor="middle">30</text>
<text x="1806.9" y="566.4" font-size="21.4" text-anchor="middle">40</text>
<text x="1950.1" y="566.4" font-size="21.4" text-anchor="middle">50</text>
<path d="M119.5 2057.1H974.2M119.5 2002.1H974.2M119.5 1947.1H974.2M119.5 1892.1H974.2M119.5 1837.1H974.2M119.5 1782.1H974.2M119.5 1727.1H974.2M119.5 1672.1H974.2M119.5 1617.1H974.2M119.5 1562.1H974.2M233.4 1562.1V2112.1M347.4 1562.1V2112.1M461.3 1562.1V2112.1M575.3 1562.1V2112.1M689.2 1562.1V2112.1M803.2 1562.1V2112.1M917.1 1562.1V2112.1" stroke="#d9d9d9" stroke-width="2" fill="none"/>
<g fill="#1b6ab5"><circle cx="134.6" cy="2017.6" r="4.6"/><circle cx="133.4" cy="2028.0" r="4.6"/><circle cx="128.0" cy="2036.9" r="4.6"/><circle cx="131.5" cy="2039.9" r="4.6"/><circle cx="135.3" cy="2043.4" r="4.6"/><circle cx="168.0" cy="2045.3" r="4.6"/><circle cx="166.8" cy="2056.8" r="4.6"/><circle cx="125.0" cy="2071.0" r="4.6"/><circle cx="138.4" cy="2074.1" r="4.6"/><circle cx="163.0" cy="2075.3" r="4.6"/><circle cx="163.8" cy="2079.1" r="4.6"/><circle cx="168.4" cy="2072.9" r="4.6"/><circle cx="175.3" cy="2071.4" r="4.6"/><circle cx="182.2" cy="2070.6" r="4.6"/><circle cx="183.0" cy="2079.9" r="4.6"/><circle cx="200.6" cy="2068.3" r="4.6"/><circle cx="202.9" cy="2071.4" r="4.6"/><circle cx="204.9" cy="2082.5" r="4.6"/><circle cx="225.2" cy="2072.2" r="4.6"/><circle cx="244.4" cy="2056.1" r="4.6"/><circle cx="242.1" cy="2064.5" r="4.6"/><circle cx="189.9" cy="2091.4" r="4.6"/><circle cx="185.3" cy="2092.9" r="4.6"/><circle cx="192.9" cy="2090.6" r="4.6"/><circle cx="214.5" cy="2094.5" r="4.6"/><circle cx="142.3" cy="2084.9" r="4.6"/><circle cx="156.1" cy="2089.1" r="4.6"/><circle cx="159.9" cy="2091.4" r="4.6"/><circle cx="163.8" cy="2096.0" r="4.6"/><circle cx="166.1" cy="2101.4" r="4.6"/><circle cx="153.0" cy="2094.5" r="4.6"/><circle cx="148.4" cy="2094.5" r="4.6"/><circle cx="143.8" cy="2089.8" r="4.6"/><circle cx="169.9" cy="2093.7" r="4.6"/><circle cx="169.9" cy="2089.8" r="4.6"/><circle cx="168.4" cy="2101.4" r="4.6"/><circle cx="165.3" cy="2086.0" r="4.6"/><circle cx="133.0" cy="2097.5" r="4.6"/><circle cx="125.4" cy="2097.5" r="4.6"/><circle cx="123.8" cy="2086.8" r="4.6"/><circle cx="129.2" cy="2101.4" r="4.6"/><circle cx="123.1" cy="2107.5" r="4.6"/><circle cx="134.6" cy="2105.2" r="4.6"/><circle cx="379.5" cy="1950.1" r="4.6"/><circle cx="451.5" cy="1948.9" r="4.6"/><circle cx="441.6" cy="1986.4" r="4.6"/><circle cx="394.7" cy="1998.3" r="4.6"/><circle cx="444.9" cy="2020.0" r="4.6"/><circle cx="421.3" cy="2027.4" r="4.6"/><circle cx="361.4" cy="2036.5" r="4.6"/><circle cx="348.6" cy="2041.1" r="4.6"/><circle cx="346.1" cy="2048.5" r="4.6"/><circle cx="389.4" cy="2043.5" r="4.6"/><circle cx="286.6" cy="2050.5" r="4.6"/><circle cx="253.2" cy="2058.4" r="4.6"/><circle cx="271.3" cy="2073.2" r="4.6"/><circle cx="290.2" cy="2070.2" r="4.6"/><circle cx="609.4" cy="1963.4" r="4.6"/><circle cx="624.7" cy="1976.4" r="4.6"/></g>
<g fill="#c5504b"><circle cx="127.7" cy="2056.4" r="4.6"/><circle cx="140.7" cy="2068.3" r="4.6"/><circle cx="186.0" cy="2062.2" r="4.6"/><circle cx="127.7" cy="2079.1" r="4.6"/><circle cx="130.7" cy="2083.7" r="4.6"/><circle cx="131.5" cy="2089.8" r="4.6"/><circle cx="137.6" cy="2096.0" r="4.6"/><circle cx="142.3" cy="2099.1" r="4.6"/><circle cx="146.9" cy="2105.2" r="4.6"/><circle cx="125.4" cy="2082.2" r="4.6"/><circle cx="123.1" cy="2093.7" r="4.6"/><circle cx="132.3" cy="2106.7" r="4.6"/></g>
<path d="M119.5 1562.1V2112.1H974.2" stroke="#000" stroke-width="2.2" fill="none"/>
<rect x="119.5" y="2011.0" width="50.6" height="101.1" stroke="#000" stroke-width="2.8" fill="none"/>
<text x="95.5" y="2119.4" font-size="21.4" text-anchor="end">0</text>
<text x="95.5" y="2064.4" font-size="21.4" text-anchor="end">500</text>
<text x="95.5" y="2009.4" font-size="21.4" text-anchor="end">1000</text>
<text x="95.5" y="1954.4" font-size="21.4" text-anchor="end">1500</text>
<text x="95.5" y="1899.4" font-size="21.4" text-anchor="end">2000</text>
<text x="95.5" y="1844.4" font-size="21.4" text-anchor="end">2500</text>
<text x="95.5" y="1789.4" font-size="21.4" text-anchor="end">3000</text>
<text x="95.5" y="1734.4" font-size="21.4" text-anchor="end">3500</text>
<text x="95.5" y="1679.4" font-size="21.4" text-anchor="end">4000</text>
<text x="95.5" y="1624.4" font-size="21.4" text-anchor="end">4500</text>
<text x="95.5" y="1569.4" font-size="21.4" text-anchor="end">5000</text>
<text x="119.5" y="2151.9" font-size="21.4" text-anchor="middle">0</text>
<text x="233.4" y="2151.9" font-size="21.4" text-anchor="middle">200</text>
<text x="347.4" y="2151.9" font-size="21.4" text-anchor="middle">400</text>
<text x="461.3" y="2151.9" font-size="21.4" text-anchor="middle">600</text>
<text x="575.3" y="2151.9" font-size="21.4" text-anchor="middle">800</text>
<text x="689.2" y="2151.9" font-size="21.4" text-anchor="middle">1000</text>
<text x="803.2" y="2151.9" font-size="21.4" text-anchor="middle">1200</text>
<text x="917.1" y="2151.9" font-size="21.4" text-anchor="middle">1400</text>
<path d="M119.5 2011.0L199.0 1673.9M170.1 2112.1L916.0 1673.9" stroke="#000" stroke-width="1.1" stroke-dasharray="4.2 2.5" fill="none"/>
<rect x="200.5" y="1275.3" width="714.5" height="398.6" fill="#fff" fill-opacity="0.8"/>
<path d="M200.5 1574.2H915.0M200.5 1474.6H915.0M200.5 1375.0H915.0M343.4 1275.3V1673.9M486.3 1275.3V1673.9M629.2 1275.3V1673.9M772.1 1275.3V1673.9" stroke="#d9d9d9" stroke-width="2" fill="none"/>
<g fill="#1b6ab5"><circle cx="543.5" cy="1291.3" r="4.6"/><circle cx="429.6" cy="1329.8" r="4.6"/><circle cx="515.3" cy="1344.6" r="4.6"/><circle cx="601.1" cy="1360.7" r="4.6"/><circle cx="328.9" cy="1486.3" r="4.6"/><circle cx="272.0" cy="1549.1" r="4.6"/><circle cx="286.2" cy="1557.4" r="4.6"/><circle cx="458.2" cy="1588.6" r="4.6"/><circle cx="372.1" cy="1607.0" r="4.6"/><circle cx="401.0" cy="1610.3" r="4.6"/><circle cx="415.6" cy="1613.3" r="4.6"/><circle cx="429.6" cy="1627.1" r="4.6"/><circle cx="515.3" cy="1619.2" r="4.6"/><circle cx="272.0" cy="1664.6" r="4.6"/><circle cx="672.5" cy="1497.0" r="4.6"/><circle cx="744.2" cy="1551.5" r="4.6"/><circle cx="758.6" cy="1548.5" r="4.6"/><circle cx="772.6" cy="1586.7" r="4.6"/><circle cx="801.3" cy="1588.7" r="4.6"/><circle cx="615.1" cy="1595.5" r="4.6"/><circle cx="715.8" cy="1606.1" r="4.6"/><circle cx="801.3" cy="1614.5" r="4.6"/><circle cx="829.9" cy="1620.2" r="4.6"/><circle cx="887.0" cy="1615.7" r="4.6"/><circle cx="572.6" cy="1628.2" r="4.6"/><circle cx="672.5" cy="1633.8" r="4.6"/><circle cx="586.6" cy="1644.6" r="4.6"/><circle cx="572.6" cy="1650.2" r="4.6"/></g>
<g fill="#b81c22"><circle cx="401.0" cy="1418.4" r="4.6"/><circle cx="729.8" cy="1474.6" r="4.6"/><circle cx="272.0" cy="1545.2" r="4.6"/><circle cx="286.2" cy="1539.2" r="4.6"/><circle cx="286.2" cy="1544.2" r="4.6"/><circle cx="286.2" cy="1548.1" r="4.6"/><circle cx="286.2" cy="1572.2" r="4.6"/><circle cx="386.6" cy="1521.5" r="4.6"/><circle cx="472.5" cy="1551.5" r="4.6"/><circle cx="343.5" cy="1570.8" r="4.6"/><circle cx="443.8" cy="1576.8" r="4.6"/><circle cx="472.5" cy="1583.7" r="4.6"/><circle cx="486.9" cy="1580.7" r="4.6"/><circle cx="314.9" cy="1593.5" r="4.6"/><circle cx="486.9" cy="1600.5" r="4.6"/><circle cx="543.5" cy="1600.5" r="4.6"/><circle cx="358.3" cy="1616.7" r="4.6"/><circle cx="372.1" cy="1616.3" r="4.6"/><circle cx="386.6" cy="1611.9" r="4.6"/><circle cx="401.0" cy="1618.2" r="4.6"/><circle cx="415.6" cy="1616.3" r="4.6"/><circle cx="329.3" cy="1624.8" r="4.6"/><circle cx="343.5" cy="1623.2" r="4.6"/><circle cx="343.5" cy="1628.1" r="4.6"/><circle cx="343.5" cy="1633.0" r="4.6"/><circle cx="343.5" cy="1638.0" r="4.6"/><circle cx="343.5" cy="1642.9" r="4.6"/><circle cx="343.5" cy="1647.9" r="4.6"/><circle cx="343.5" cy="1651.8" r="4.6"/><circle cx="358.3" cy="1632.1" r="4.6"/><circle cx="358.3" cy="1643.9" r="4.6"/><circle cx="372.1" cy="1637.0" r="4.6"/><circle cx="372.1" cy="1642.9" r="4.6"/><circle cx="372.1" cy="1647.9" r="4.6"/><circle cx="386.6" cy="1636.0" r="4.6"/><circle cx="401.0" cy="1633.0" r="4.6"/><circle cx="429.6" cy="1638.0" r="4.6"/><circle cx="329.3" cy="1638.0" r="4.6"/><circle cx="314.9" cy="1639.0" r="4.6"/><circle cx="314.9" cy="1643.9" r="4.6"/><circle cx="314.9" cy="1648.8" r="4.6"/><circle cx="314.9" cy="1653.8" r="4.6"/><circle cx="314.9" cy="1658.7" r="4.6"/><circle cx="314.9" cy="1664.6" r="4.6"/><circle cx="286.2" cy="1649.8" r="4.6"/><circle cx="286.2" cy="1654.8" r="4.6"/><circle cx="286.2" cy="1659.7" r="4.6"/><circle cx="272.0" cy="1652.4" r="4.6"/><circle cx="329.3" cy="1658.7" r="4.6"/><circle cx="343.5" cy="1659.7" r="4.6"/><circle cx="372.1" cy="1660.7" r="4.6"/><circle cx="386.6" cy="1658.7" r="4.6"/><circle cx="401.0" cy="1663.7" r="4.6"/><circle cx="458.2" cy="1646.9" r="4.6"/><circle cx="515.3" cy="1662.7" r="4.6"/><circle cx="300.6" cy="1664.6" r="4.6"/><circle cx="572.6" cy="1592.7" r="4.6"/><circle cx="629.5" cy="1614.5" r="4.6"/><circle cx="672.5" cy="1605.7" r="4.6"/><circle cx="801.3" cy="1639.6" r="4.6"/><circle cx="887.0" cy="1640.2" r="4.6"/></g>
<g fill="#1b6ab5"><circle cx="372.1" cy="1619.2" r="4.6"/><circle cx="358.3" cy="1627.1" r="4.6"/><circle cx="300.6" cy="1660.7" r="4.6"/><circle cx="358.3" cy="1658.7" r="4.6"/><circle cx="358.3" cy="1660.1" r="4.6"/><circle cx="372.1" cy="1650.8" r="4.6"/><circle cx="386.6" cy="1654.8" r="4.6"/><circle cx="458.2" cy="1652.2" r="4.6"/></g>
<path d="M781.1 1278.0V1672.0" stroke="#000" stroke-width="2.6" stroke-dasharray="12.3 8.45" fill="none"/>
<rect x="200.5" y="1275.3" width="714.5" height="398.6" fill="none" stroke="#000" stroke-width="1.5"/>
<text x="177.2" y="1681.2" font-size="21.4" text-anchor="end">0</text>
<text x="177.2" y="1581.5" font-size="21.4" text-anchor="end">200</text>
<text x="177.2" y="1481.9" font-size="21.4" text-anchor="end">400</text>
<text x="177.2" y="1382.2" font-size="21.4" text-anchor="end">600</text>
<text x="177.2" y="1282.6" font-size="21.4" text-anchor="end">800</text>
<text x="200.5" y="1714.0" font-size="21.4" text-anchor="middle">0</text>
<text x="343.4" y="1714.0" font-size="21.4" text-anchor="middle">10</text>
<text x="486.3" y="1714.0" font-size="21.4" text-anchor="middle">20</text>
<text x="629.2" y="1714.0" font-size="21.4" text-anchor="middle">30</text>
<text x="772.1" y="1714.0" font-size="21.4" text-anchor="middle">40</text>
<text x="915.0" y="1714.0" font-size="21.4" text-anchor="middle">50</text>
<text x="6.2" y="31.6" font-size="33" font-weight="bold" textLength="32.5" lengthAdjust="spacingAndGlyphs">A)</text>
<text x="53.1" y="31.6" font-size="33" font-weight="bold" textLength="382.0" lengthAdjust="spacingAndGlyphs">DNA (400/600bp, n=66)</text>
<text x="1016.0" y="30.1" font-size="33" font-weight="bold" textLength="30.5" lengthAdjust="spacingAndGlyphs">B)</text>
<text x="1068.6" y="30.1" font-size="33" font-weight="bold" textLength="304.5" lengthAdjust="spacingAndGlyphs">DNA (300bp, n=21)</text>
<text x="3.7" y="1224.6" font-size="33" font-weight="bold" textLength="29.5" lengthAdjust="spacingAndGlyphs">C)</text>
<text x="55.5" y="1224.6" font-size="33" font-weight="bold" textLength="286.0" lengthAdjust="spacingAndGlyphs">DNA (200bp, n=6)</text>
<text x="336.8" y="90.0" font-size="24.3" font-weight="bold" textLength="218.5" lengthAdjust="spacingAndGlyphs">Mean + 2SD = 14.9</text>
<text x="1351.4" y="87.8" font-size="24.3" font-weight="bold" textLength="219.5" lengthAdjust="spacingAndGlyphs">Mean + 2SD = 12.9</text>
<text x="705.0" y="1251.1" font-size="24.3" font-weight="bold" textLength="219.5" lengthAdjust="spacingAndGlyphs">Mean + 2SD = 40.1</text>
<text x="378.8" y="1136.1" font-size="29" font-weight="bold" textLength="321.5" lengthAdjust="spacingAndGlyphs">Alternative allele depth</text>
<text x="1408.2" y="1135.9" font-size="29" font-weight="bold" textLength="320.5" lengthAdjust="spacingAndGlyphs">Alternative allele depth</text>
<text x="385.7" y="2202.5" font-size="29" font-weight="bold" textLength="321.5" lengthAdjust="spacingAndGlyphs">Alternative allele depth</text>
<text x="26.5" y="890.3" font-size="29.7" font-weight="bold" textLength="229.5" lengthAdjust="spacingAndGlyphs" transform="rotate(-90 26.5 890.3)">Total read depth</text>
<text x="1035.2" y="846.0" font-size="29" font-weight="bold" textLength="154.2" lengthAdjust="spacingAndGlyphs" transform="rotate(-90 1035.2 846.0)">Total depth</text>
<text x="24.3" y="1916.5" font-size="29" font-weight="bold" textLength="156.7" lengthAdjust="spacingAndGlyphs" transform="rotate(-90 24.3 1916.5)">Total depth</text>
<rect x="1235.7" y="1205" width="457.2" height="116.2" rx="15" fill="#fff" stroke="#efefef" stroke-width="1.2"/>
<ellipse cx="1283" cy="1241" rx="10" ry="10.8" fill="#1b6ab5"/>
<ellipse cx="1283" cy="1290" rx="10" ry="11" fill="#b81c22"/>
<text x="1306.1" y="1249.9" font-size="28" textLength="289.0" lengthAdjust="spacingAndGlyphs">Reproducible variants</text>
<text x="1306.1" y="1299.8" font-size="28" textLength="348.5" lengthAdjust="spacingAndGlyphs">Non-reproducible variants</text>
</svg></body></html>
